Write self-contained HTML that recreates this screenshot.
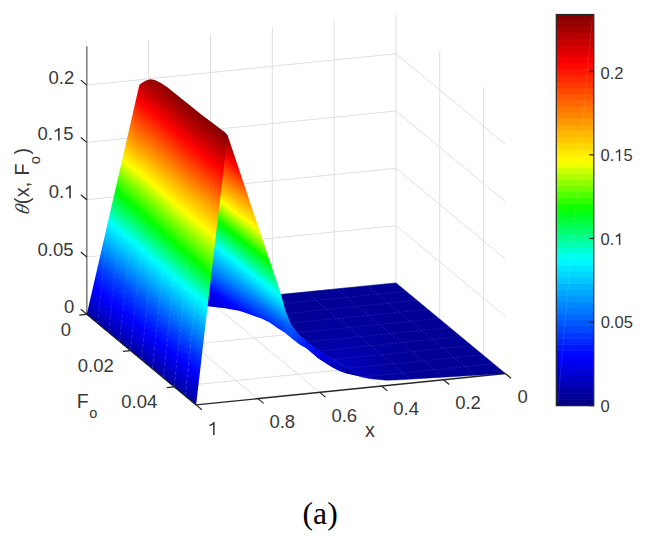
<!DOCTYPE html>
<html><head><meta charset="utf-8"><title>surface plot</title>
<style>html,body{margin:0;padding:0;background:#fff;overflow:hidden;width:648px;height:540px;}svg{display:block;}</style>
</head><body><svg width="648" height="540" viewBox="0 0 648 540"><g id="grid"><line x1="148.64" y1="308.02" x2="148.64" y2="39.97" stroke="#dfdfdf" stroke-width="1.00" /><line x1="210.48" y1="301.74" x2="210.48" y2="33.69" stroke="#dfdfdf" stroke-width="1.00" /><line x1="272.32" y1="295.46" x2="272.32" y2="27.41" stroke="#dfdfdf" stroke-width="1.00" /><line x1="334.16" y1="289.18" x2="334.16" y2="21.13" stroke="#dfdfdf" stroke-width="1.00" /><line x1="396.00" y1="282.90" x2="396.00" y2="14.85" stroke="#dfdfdf" stroke-width="1.00" /><line x1="86.80" y1="314.30" x2="396.00" y2="282.90" stroke="#dfdfdf" stroke-width="1.00" /><line x1="86.80" y1="257.00" x2="396.00" y2="225.60" stroke="#dfdfdf" stroke-width="1.00" /><line x1="86.80" y1="199.70" x2="396.00" y2="168.30" stroke="#dfdfdf" stroke-width="1.00" /><line x1="86.80" y1="142.40" x2="396.00" y2="111.00" stroke="#dfdfdf" stroke-width="1.00" /><line x1="86.80" y1="85.10" x2="396.00" y2="53.70" stroke="#dfdfdf" stroke-width="1.00" /><line x1="439.72" y1="319.14" x2="439.72" y2="51.09" stroke="#dfdfdf" stroke-width="1.00" /><line x1="483.44" y1="355.38" x2="483.44" y2="87.33" stroke="#dfdfdf" stroke-width="1.00" /><line x1="396.00" y1="282.90" x2="505.30" y2="373.50" stroke="#dfdfdf" stroke-width="1.00" /><line x1="396.00" y1="225.60" x2="505.30" y2="316.20" stroke="#dfdfdf" stroke-width="1.00" /><line x1="396.00" y1="168.30" x2="505.30" y2="258.90" stroke="#dfdfdf" stroke-width="1.00" /><line x1="396.00" y1="111.00" x2="505.30" y2="201.60" stroke="#dfdfdf" stroke-width="1.00" /><line x1="396.00" y1="53.70" x2="505.30" y2="144.30" stroke="#dfdfdf" stroke-width="1.00" /><line x1="148.64" y1="308.02" x2="257.94" y2="398.62" stroke="#dfdfdf" stroke-width="1.00" /><line x1="210.48" y1="301.74" x2="319.78" y2="392.34" stroke="#dfdfdf" stroke-width="1.00" /><line x1="272.32" y1="295.46" x2="381.62" y2="386.06" stroke="#dfdfdf" stroke-width="1.00" /><line x1="334.16" y1="289.18" x2="443.46" y2="379.78" stroke="#dfdfdf" stroke-width="1.00" /><line x1="130.52" y1="350.54" x2="439.72" y2="319.14" stroke="#dfdfdf" stroke-width="1.00" /><line x1="174.24" y1="386.78" x2="483.44" y2="355.38" stroke="#dfdfdf" stroke-width="1.00" /></g><g id="axes" stroke-linecap="butt"><line x1="86.80" y1="314.80" x2="86.80" y2="46.25" stroke="#7a7a7a" stroke-width="1.50" /><line x1="86.80" y1="314.30" x2="196.10" y2="404.90" stroke="#262626" stroke-width="1.30" /><line x1="196.10" y1="404.90" x2="505.30" y2="373.50" stroke="#262626" stroke-width="1.30" /><line x1="86.80" y1="314.30" x2="80.79" y2="309.32" stroke="#262626" stroke-width="1.20" /><line x1="86.80" y1="257.00" x2="80.79" y2="252.02" stroke="#262626" stroke-width="1.20" /><line x1="86.80" y1="199.70" x2="80.79" y2="194.72" stroke="#262626" stroke-width="1.20" /><line x1="86.80" y1="142.40" x2="80.79" y2="137.42" stroke="#262626" stroke-width="1.20" /><line x1="86.80" y1="85.10" x2="80.79" y2="80.12" stroke="#262626" stroke-width="1.20" /><line x1="86.80" y1="314.30" x2="79.34" y2="315.06" stroke="#262626" stroke-width="1.20" /><line x1="130.52" y1="350.54" x2="123.06" y2="351.30" stroke="#262626" stroke-width="1.20" /><line x1="174.24" y1="386.78" x2="166.78" y2="387.54" stroke="#262626" stroke-width="1.20" /><line x1="196.10" y1="404.90" x2="201.87" y2="409.69" stroke="#262626" stroke-width="1.20" /><line x1="257.94" y1="398.62" x2="263.71" y2="403.41" stroke="#262626" stroke-width="1.20" /><line x1="319.78" y1="392.34" x2="325.55" y2="397.13" stroke="#262626" stroke-width="1.20" /><line x1="381.62" y1="386.06" x2="387.39" y2="390.85" stroke="#262626" stroke-width="1.20" /><line x1="443.46" y1="379.78" x2="449.23" y2="384.57" stroke="#262626" stroke-width="1.20" /><line x1="505.30" y1="373.50" x2="511.07" y2="378.29" stroke="#262626" stroke-width="1.20" /></g><defs><radialGradient id="flatg" gradientUnits="userSpaceOnUse" cx="345" cy="374" r="75"><stop offset="0" stop-color="#0000c4"/><stop offset="0.55" stop-color="#0000a0"/><stop offset="1" stop-color="#000096"/></radialGradient><clipPath id="flatclip"><polygon points="279.2,294.6 396,282.9 505.3,373.5 505.3,373.5 400,379.7 386.4,380.2 369.4,378.6 360,376.6 351.8,370.5 339.5,363.6 324.8,355.2 310,345.0 297.8,334.8 289.5,324.5 283.6,310.5 279,294.6"/></clipPath></defs><polygon points="279.2,294.6 396,282.9 505.3,373.5 505.3,373.5 400,379.7 386.4,380.2 369.4,378.6 360,376.6 351.8,370.5 339.5,363.6 324.8,355.2 310,345.0 297.8,334.8 289.5,324.5 283.6,310.5 279,294.6" fill="url(#flatg)" stroke="#000096" stroke-width="0.5"/><g clip-path="url(#flatclip)" opacity="0.45" stroke-dasharray="2.5 1.5"><line x1="406.06" y1="291.24" x2="236.00" y2="308.51" stroke="#4848c0" stroke-width="0.80" /><line x1="416.99" y1="300.30" x2="246.93" y2="317.57" stroke="#4848c0" stroke-width="0.80" /><line x1="427.92" y1="309.36" x2="257.86" y2="326.63" stroke="#4848c0" stroke-width="0.80" /><line x1="438.85" y1="318.42" x2="268.79" y2="335.69" stroke="#4848c0" stroke-width="0.80" /><line x1="449.78" y1="327.48" x2="279.72" y2="344.75" stroke="#4848c0" stroke-width="0.80" /><line x1="460.71" y1="336.54" x2="290.65" y2="353.81" stroke="#4848c0" stroke-width="0.80" /><line x1="471.64" y1="345.60" x2="301.58" y2="362.87" stroke="#4848c0" stroke-width="0.80" /><line x1="482.57" y1="354.66" x2="312.51" y2="371.93" stroke="#4848c0" stroke-width="0.80" /><line x1="493.50" y1="363.72" x2="323.44" y2="380.99" stroke="#4848c0" stroke-width="0.80" /></g><g clip-path="url(#flatclip)" opacity="0.35"><line x1="305.71" y1="292.07" x2="415.01" y2="382.67" stroke="#4848c0" stroke-width="0.80" /><line x1="336.63" y1="288.93" x2="445.93" y2="379.53" stroke="#4848c0" stroke-width="0.80" /><line x1="367.55" y1="285.79" x2="476.85" y2="376.39" stroke="#4848c0" stroke-width="0.80" /></g><clipPath id="sec"><polygon points="227.6,135.2 281,294.6 285.4,310.5 291,324.5 299,334.8 311,345.0 325.5,355.2 340,363.6 352,370.5 360,376.6 346.5,373.6 340,371.2 332.2,367.3 325,362.8 318,358.2 312,353.0 306,348.0 300,344.8 292,338.5 285.4,333.0 277,327.7 270,322.8 262,318.8 250,314.5 240,311.1 225,308.2 207.4,306.3 205.2,306.3 225.4,137.0"/></clipPath><mask id="sec_m" maskUnits="userSpaceOnUse" x="0" y="0" width="648" height="540"><polygon fill="#fff" points="227.6,135.2 281,294.6 285.4,310.5 291,324.5 299,334.8 311,345.0 325.5,355.2 340,363.6 352,370.5 360,376.6 346.5,373.6 340,371.2 332.2,367.3 325,362.8 318,358.2 312,353.0 306,348.0 300,344.8 292,338.5 285.4,333.0 277,327.7 270,322.8 262,318.8 250,314.5 240,311.1 225,308.2 207.4,306.3 205.2,306.3 225.4,137.0"/></mask><g mask="url(#sec_m)"><polygon points="-11.4,634.8 407.9,483.6 407.9,-60 -11.4,-60" fill="#000083"/><polygon points="8.1,313.3 375.5,420.9 375.5,-60 8.1,-60" fill="#000083"/><polygon points="10.3,302.5 374,419.4 374.0,-60 10.3,-60" fill="#000089"/><polygon points="12.7,291.7 372.5,418.0 372.5,-60 12.7,-60" fill="#00008f"/><polygon points="15.2,280.9 371,416.6 371.0,-60 15.2,-60" fill="#000096"/><polygon points="17.9,270.1 369.4,415.2 369.4,-60 17.9,-60" fill="#00009c"/><polygon points="20.7,259.3 367.8,413.8 367.8,-60 20.7,-60" fill="#0000a3"/><polygon points="23.7,248.6 366.1,412.3 366.1,-60 23.7,-60" fill="#0000a9"/><polygon points="26.8,237.8 364.4,410.9 364.4,-60 26.8,-60" fill="#0000af"/><polygon points="30.1,227.2 362.6,409.4 362.6,-60 30.1,-60" fill="#0000b6"/><polygon points="33.5,216.6 360.8,408.0 360.8,-60 33.5,-60" fill="#0000bc"/><polygon points="37,206.1 359,406.5 359.0,-60 37.0,-60" fill="#0000c2"/><polygon points="40.5,196.1 357.2,404.9 357.2,-60 40.5,-60" fill="#0000c9"/><polygon points="40.6,194.3 356.2,401.9 356.2,-60 40.6,-60" fill="#0000cf"/><polygon points="40.8,192.4 355.3,398.9 355.3,-60 40.8,-60" fill="#0000d6"/><polygon points="40.9,190.5 354.3,396.0 354.3,-60 40.9,-60" fill="#0000dc"/><polygon points="41,188.7 353.4,393.0 353.4,-60 41.0,-60" fill="#0000e2"/><polygon points="41.9,185.7 352.6,391.6 352.6,-60 41.9,-60" fill="#0000e9"/><polygon points="42.9,182.6 351.8,390.2 351.8,-60 42.9,-60" fill="#0000ef"/><polygon points="43.4,180.5 351.1,388.7 351.1,-60 43.4,-60" fill="#0000f5"/><polygon points="43.4,179.7 350.6,387.0 350.6,-60 43.4,-60" fill="#0000fc"/><polygon points="43.3,178.9 350.1,385.2 350.1,-60 43.3,-60" fill="#0003ff"/><polygon points="43.3,178.2 349.6,383.5 349.6,-60 43.3,-60" fill="#000aff"/><polygon points="43.2,177.4 349.1,381.7 349.1,-60 43.2,-60" fill="#0010ff"/><polygon points="43.2,176.6 348.6,380.0 348.6,-60 43.2,-60" fill="#0016ff"/><polygon points="43.1,175.9 348.1,378.2 348.1,-60 43.1,-60" fill="#001dff"/><polygon points="43.1,175.0 347.6,376.6 347.6,-60 43.1,-60" fill="#0023ff"/><polygon points="43.2,174.1 347.1,375.1 347.1,-60 43.2,-60" fill="#0029ff"/><polygon points="43.3,173.1 346.6,373.6 346.6,-60 43.3,-60" fill="#0030ff"/><polygon points="43.4,172.1 346.1,372.1 346.1,-60 43.4,-60" fill="#0036ff"/><polygon points="43.5,171.2 345.6,370.7 345.6,-60 43.5,-60" fill="#003dff"/><polygon points="43.6,170.2 345.2,369.2 345.2,-60 43.6,-60" fill="#0043ff"/><polygon points="43.6,169.3 344.7,367.7 344.7,-60 43.6,-60" fill="#0049ff"/><polygon points="43.7,168.3 344.2,366.2 344.2,-60 43.7,-60" fill="#0050ff"/><polygon points="43.8,167.3 343.7,364.7 343.7,-60 43.8,-60" fill="#0056ff"/><polygon points="43.9,166.4 343.2,363.3 343.2,-60 43.9,-60" fill="#005cff"/><polygon points="44,165.4 342.8,361.8 342.8,-60 44.0,-60" fill="#0063ff"/><polygon points="44.2,164.3 342.3,360.5 342.3,-60 44.2,-60" fill="#0069ff"/><polygon points="44.5,163.0 341.9,359.4 341.9,-60 44.5,-60" fill="#0070ff"/><polygon points="45,161.2 341.4,358.4 341.4,-60 45.0,-60" fill="#0076ff"/><polygon points="45.5,159.4 340.9,357.5 340.9,-60 45.5,-60" fill="#007cff"/><polygon points="46.1,157.5 340.3,356.5 340.3,-60 46.1,-60" fill="#0083ff"/><polygon points="46.7,155.6 339.8,355.6 339.8,-60 46.7,-60" fill="#0089ff"/><polygon points="47.3,153.7 339.3,354.6 339.3,-60 47.3,-60" fill="#008fff"/><polygon points="47.9,151.8 338.8,353.7 338.8,-60 47.9,-60" fill="#0096ff"/><polygon points="48.5,150.0 338.3,352.7 338.3,-60 48.5,-60" fill="#009cff"/><polygon points="49.1,148.1 337.7,351.8 337.7,-60 49.1,-60" fill="#00a3ff"/><polygon points="49.7,146.2 337.2,350.8 337.2,-60 49.7,-60" fill="#00a9ff"/><polygon points="50.3,144.3 336.7,349.9 336.7,-60 50.3,-60" fill="#00afff"/><polygon points="51,142.4 336.1,348.9 336.1,-60 51.0,-60" fill="#00b6ff"/><polygon points="51.6,140.5 335.6,348.0 335.6,-60 51.6,-60" fill="#00bcff"/><polygon points="52.2,138.5 335.1,347.0 335.1,-60 52.2,-60" fill="#00c2ff"/><polygon points="52.9,136.6 334.5,346.1 334.5,-60 52.9,-60" fill="#00c9ff"/><polygon points="53.5,134.7 334,345.1 334.0,-60 53.5,-60" fill="#00cfff"/><polygon points="54.2,132.8 333.5,344.2 333.5,-60 54.2,-60" fill="#00d6ff"/><polygon points="54.9,130.9 332.9,343.3 332.9,-60 54.9,-60" fill="#00dcff"/><polygon points="55.5,129.1 332.4,342.2 332.4,-60 55.5,-60" fill="#00e2ff"/><polygon points="55.8,127.6 331.8,340.6 331.8,-60 55.8,-60" fill="#00e9ff"/><polygon points="56.1,126.1 331.2,339.1 331.2,-60 56.1,-60" fill="#00efff"/><polygon points="56.4,124.7 330.6,337.6 330.6,-60 56.4,-60" fill="#00f5ff"/><polygon points="56.7,123.4 330,336.1 330.0,-60 56.7,-60" fill="#00fcff"/><polygon points="56.9,122.1 329.5,334.6 329.5,-60 56.9,-60" fill="#00fff9"/><polygon points="57.2,120.7 328.9,333.0 328.9,-60 57.2,-60" fill="#00ffec"/><polygon points="57.5,119.4 328.3,331.5 328.3,-60 57.5,-60" fill="#00ffdf"/><polygon points="57.7,118.1 327.8,330.0 327.8,-60 57.7,-60" fill="#00ffd2"/><polygon points="58,116.8 327.2,328.4 327.2,-60 58.0,-60" fill="#00ffc6"/><polygon points="58.3,115.4 326.6,326.9 326.6,-60 58.3,-60" fill="#00ffb9"/><polygon points="58.5,114.1 326.1,325.4 326.1,-60 58.5,-60" fill="#00ffac"/><polygon points="58.8,112.7 325.5,323.8 325.5,-60 58.8,-60" fill="#00ff9f"/><polygon points="58.9,111.6 324.9,322.0 324.9,-60 58.9,-60" fill="#00ff93"/><polygon points="58.9,110.7 324.3,320.1 324.3,-60 58.9,-60" fill="#00ff86"/><polygon points="58.9,109.7 323.7,318.1 323.7,-60 58.9,-60" fill="#00ff79"/><polygon points="58.8,108.7 323.1,316.1 323.1,-60 58.8,-60" fill="#00ff6c"/><polygon points="58.8,107.8 322.5,314.2 322.5,-60 58.8,-60" fill="#00ff60"/><polygon points="58.8,106.8 321.9,312.2 321.9,-60 58.8,-60" fill="#00ff53"/><polygon points="58.7,105.9 321.4,310.2 321.4,-60 58.7,-60" fill="#00ff46"/><polygon points="58.7,105.0 320.8,308.2 320.8,-60 58.7,-60" fill="#00ff39"/><polygon points="58.8,103.8 320.2,306.6 320.2,-60 58.8,-60" fill="#00ff2d"/><polygon points="59.1,102.5 319.6,305.0 319.6,-60 59.1,-60" fill="#00ff20"/><polygon points="59.3,101.2 319,303.4 319.0,-60 59.3,-60" fill="#00ff13"/><polygon points="59.6,99.9 318.5,301.8 318.5,-60 59.6,-60" fill="#00ff06"/><polygon points="59.8,98.6 317.9,300.2 317.9,-60 59.8,-60" fill="#06ff00"/><polygon points="60.1,97.3 317.3,298.6 317.3,-60 60.1,-60" fill="#13ff00"/><polygon points="60.3,96.0 316.7,297.1 316.7,-60 60.3,-60" fill="#20ff00"/><polygon points="60.6,94.6 316.2,295.5 316.2,-60 60.6,-60" fill="#2dff00"/><polygon points="60.6,93.7 315.6,293.8 315.6,-60 60.6,-60" fill="#39ff00"/><polygon points="60.6,92.8 315.1,292.2 315.1,-60 60.6,-60" fill="#46ff00"/><polygon points="60.7,91.9 314.6,290.5 314.6,-60 60.7,-60" fill="#53ff00"/><polygon points="60.7,91.0 314.1,288.8 314.1,-60 60.7,-60" fill="#60ff00"/><polygon points="60.7,90.0 313.6,287.2 313.6,-60 60.7,-60" fill="#6cff00"/><polygon points="60.8,89.1 313.1,285.6 313.1,-60 60.8,-60" fill="#79ff00"/><polygon points="60.8,88.2 312.5,283.9 312.5,-60 60.8,-60" fill="#86ff00"/><polygon points="60.8,87.2 312,282.3 312.0,-60 60.8,-60" fill="#93ff00"/><polygon points="60.9,86.3 311.5,280.7 311.5,-60 60.9,-60" fill="#9fff00"/><polygon points="60.9,85.4 311,279.1 311.0,-60 60.9,-60" fill="#acff00"/><polygon points="60.9,84.5 310.5,277.4 310.5,-60 60.9,-60" fill="#b9ff00"/><polygon points="61,83.6 310,275.8 310.0,-60 61.0,-60" fill="#c6ff00"/><polygon points="61,82.7 309.5,274.2 309.5,-60 61.0,-60" fill="#d2ff00"/><polygon points="61,81.8 309,272.5 309.0,-60 61.0,-60" fill="#dfff00"/><polygon points="61,80.8 308.5,270.9 308.5,-60 61.0,-60" fill="#ecff00"/><polygon points="61.1,80.0 308,269.3 308.0,-60 61.1,-60" fill="#f9ff00"/><polygon points="61.1,79.1 307.5,267.6 307.5,-60 61.1,-60" fill="#fffc00"/><polygon points="61.1,78.2 307,266.0 307.0,-60 61.1,-60" fill="#fff500"/><polygon points="61.1,77.3 306.5,264.3 306.5,-60 61.1,-60" fill="#ffef00"/><polygon points="60.9,76.6 306,262.6 306.0,-60 60.9,-60" fill="#ffe900"/><polygon points="60.6,76.2 305.5,260.5 305.5,-60 60.6,-60" fill="#ffe200"/><polygon points="60.2,75.8 305.1,258.5 305.1,-60 60.2,-60" fill="#ffdc00"/><polygon points="59.8,75.5 304.6,256.5 304.6,-60 59.8,-60" fill="#ffd600"/><polygon points="59.4,75.2 304.1,254.4 304.1,-60 59.4,-60" fill="#ffcf00"/><polygon points="58.9,75.0 303.7,252.4 303.7,-60 58.9,-60" fill="#ffc900"/><polygon points="58.4,74.8 303.3,250.3 303.3,-60 58.4,-60" fill="#ffc200"/><polygon points="57.9,74.6 302.8,248.2 302.8,-60 57.9,-60" fill="#ffbc00"/><polygon points="57.4,74.5 302.4,246.1 302.4,-60 57.4,-60" fill="#ffb600"/><polygon points="56.9,74.4 302,244.0 302.0,-60 56.9,-60" fill="#ffaf00"/><polygon points="56.5,74.0 301.5,241.9 301.5,-60 56.5,-60" fill="#ffa900"/><polygon points="56.2,73.5 301.1,239.9 301.1,-60 56.2,-60" fill="#ffa300"/><polygon points="55.9,73.0 300.6,237.9 300.6,-60 55.9,-60" fill="#ff9c00"/><polygon points="55.5,72.6 300.1,235.8 300.1,-60 55.5,-60" fill="#ff9600"/><polygon points="55.9,71.2 299.6,234.4 299.6,-60 55.9,-60" fill="#ff8f00"/><polygon points="56.5,69.3 298.9,233.3 298.9,-60 56.5,-60" fill="#ff8900"/><polygon points="57.1,67.4 298.3,232.1 298.3,-60 57.1,-60" fill="#ff8300"/><polygon points="57.8,65.5 297.7,231.0 297.7,-60 57.8,-60" fill="#ff7c00"/><polygon points="58.5,63.5 297.1,229.9 297.1,-60 58.5,-60" fill="#ff7600"/><polygon points="59.2,61.5 296.4,228.7 296.4,-60 59.2,-60" fill="#ff7000"/><polygon points="60,59.5 295.8,227.6 295.8,-60 60.0,-60" fill="#ff6900"/><polygon points="60.8,57.5 295.1,226.5 295.1,-60 60.8,-60" fill="#ff6300"/><polygon points="61.6,55.4 294.5,225.4 294.5,-60 61.6,-60" fill="#ff5c00"/><polygon points="62.5,53.2 293.8,224.4 293.8,-60 62.5,-60" fill="#ff5600"/><polygon points="63.4,51.1 293.1,223.3 293.1,-60 63.4,-60" fill="#ff5000"/><polygon points="64,49.2 292.5,222.0 292.5,-60 64.0,-60" fill="#ff4900"/><polygon points="64.6,47.5 291.8,220.7 291.8,-60 64.6,-60" fill="#ff4300"/><polygon points="65.3,45.7 291.2,219.4 291.2,-60 65.3,-60" fill="#ff3d00"/><polygon points="65.9,43.8 290.5,218.1 290.5,-60 65.9,-60" fill="#ff3600"/><polygon points="66.6,41.9 289.8,216.9 289.8,-60 66.6,-60" fill="#ff3000"/><polygon points="67.4,40.0 289.1,215.6 289.1,-60 67.4,-60" fill="#ff2900"/><polygon points="68.2,38.0 288.4,214.3 288.4,-60 68.2,-60" fill="#ff2300"/><polygon points="69,36.0 287.7,213.1 287.7,-60 69.0,-60" fill="#ff1d00"/><polygon points="69.9,33.9 287,211.9 287.0,-60 69.9,-60" fill="#ff1600"/><polygon points="70.9,31.8 286.2,210.7 286.2,-60 70.9,-60" fill="#ff1000"/><polygon points="71.9,29.6 285.5,209.5 285.5,-60 71.9,-60" fill="#ff0a00"/><polygon points="72.3,28.2 284.9,208.1 284.9,-60 72.3,-60" fill="#ff0300"/><polygon points="72.4,27.3 284.4,206.6 284.4,-60 72.4,-60" fill="#fc0000"/><polygon points="72.4,26.4 283.9,205.0 283.9,-60 72.4,-60" fill="#f50000"/><polygon points="72.4,25.6 283.4,203.5 283.4,-60 72.4,-60" fill="#ef0000"/><polygon points="72.4,24.8 282.9,201.9 282.9,-60 72.4,-60" fill="#e90000"/><polygon points="72.4,23.9 282.5,200.4 282.5,-60 72.4,-60" fill="#e20000"/><polygon points="72.4,23.1 282,198.9 282.0,-60 72.4,-60" fill="#dc0000"/><polygon points="72.4,22.3 281.6,197.3 281.6,-60 72.4,-60" fill="#d60000"/><polygon points="72.3,21.6 281.1,195.7 281.1,-60 72.3,-60" fill="#cf0000"/><polygon points="72.2,20.9 280.7,194.2 280.7,-60 72.2,-60" fill="#c90000"/><polygon points="72.1,20.2 280.2,192.6 280.2,-60 72.1,-60" fill="#c20000"/><polygon points="71.9,19.5 279.8,191.0 279.8,-60 71.9,-60" fill="#bc0000"/><polygon points="71.7,19.0 279.4,189.4 279.4,-60 71.7,-60" fill="#b60000"/><polygon points="71.5,18.3 279,187.7 279.0,-60 71.5,-60" fill="#af0000"/><polygon points="71.7,17.0 278.3,185.7 278.3,-60 71.7,-60" fill="#a90000"/><polygon points="71.8,15.7 277.6,183.7 277.6,-60 71.8,-60" fill="#a30000"/><polygon points="72,14.4 277,181.8 277.0,-60 72.0,-60" fill="#9c0000"/><polygon points="72.2,13.1 276.3,179.8 276.3,-60 72.2,-60" fill="#960000"/><polygon points="72.3,11.8 275.7,177.8 275.7,-60 72.3,-60" fill="#8f0000"/><polygon points="72.5,10.5 275,175.9 275.0,-60 72.5,-60" fill="#890000"/><polygon points="72.6,9.2 274.3,173.9 274.3,-60 72.6,-60" fill="#830000"/></g><defs><linearGradient id="stripg" gradientUnits="userSpaceOnUse" x1="284.0" y1="322.0" x2="352.0" y2="374.0"><stop offset="0.000" stop-color="#0070ff"/><stop offset="0.351" stop-color="#001dff"/><stop offset="0.568" stop-color="#0000e2"/><stop offset="0.921" stop-color="#0000a9"/><stop offset="1.000" stop-color="#0000a3"/></linearGradient><linearGradient id="stripa" gradientUnits="userSpaceOnUse" x1="284.0" y1="322.0" x2="352.0" y2="374.0"><stop offset="0.02" stop-color="#fff" stop-opacity="0"/><stop offset="0.17" stop-color="#fff" stop-opacity="1"/></linearGradient><mask id="stripm" maskUnits="userSpaceOnUse" x="0" y="0" width="648" height="540"><polygon fill="url(#stripa)" points="285.4,310.5 291,324.5 299,334.8 311,345.0 325.5,355.2 340,363.6 352,370.5 360,376.6 346.5,373.6 340,371.2 332.2,367.3 325,362.8 318,358.2 312,353.0 306,348.0 300,344.8 292,338.5 285.4,333.0 277,327.7"/></mask></defs><g mask="url(#stripm)"><polygon points="285.4,310.5 291,324.5 299,334.8 311,345.0 325.5,355.2 340,363.6 352,370.5 360,376.6 346.5,373.6 340,371.2 332.2,367.3 325,362.8 318,358.2 312,353.0 306,348.0 300,344.8 292,338.5 285.4,333.0 277,327.7" fill="url(#stripg)" /></g><clipPath id="big"><polygon points="86.8,314.3 139.4,84.8 142.3,82.7 146,80.5 150.4,79.2 154.7,80.1 160.9,83.0 167,86.9 176,94.3 188.9,104.6 201.9,115.0 214.9,124.7 225.2,132.5 227.6,135.2 196.1,404.9"/></clipPath><mask id="big_m" maskUnits="userSpaceOnUse" x="0" y="0" width="648" height="540"><polygon fill="#fff" points="86.8,314.3 139.4,84.8 142.3,82.7 146,80.5 150.4,79.2 154.7,80.1 160.9,83.0 167,86.9 176,94.3 188.9,104.6 201.9,115.0 214.9,124.7 225.2,132.5 227.6,135.2 196.1,404.9"/></mask><g mask="url(#big_m)"><polygon points="81.2,325.8 84.2,325.8 92.7,333.3 101.1,340.7 109.6,347.8 118.1,355.0 126.6,362.0 135.1,369.0 143.6,376.1 152.1,383.1 160.6,390.2 169.1,397.2 177.5,404.3 186,411.4 194.5,418.4 197.5,418.4 233.1,113.6 230.1,113.6 223.5,107.7 216.8,102.7 210.2,97.8 203.5,92.8 196.8,87.5 190.2,82.2 183.5,76.9 176.9,71.5 170.2,66.2 163.6,62.2 156.9,59.9 150.3,61.2 143.6,66.4 140.6,66.4" fill="#000083"/><polygon points="83.8,314.3 86.8,314.3 95.2,321.3 103.6,328.2 112,335.2 120.4,342.2 128.8,349.1 137.2,356.1 145.7,363.1 154.1,370.1 162.5,377.0 170.9,384.0 179.3,391.0 187.7,397.9 196.1,404.9 199.1,404.9 233.1,113.6 230.1,113.6 223.5,107.7 216.8,102.7 210.2,97.8 203.5,92.8 196.8,87.5 190.2,82.2 183.5,76.9 176.9,71.5 170.2,66.2 163.6,62.2 156.9,59.9 150.3,61.2 143.6,66.4 140.6,66.4" fill="#000089"/><polygon points="83.9,314.0 86.9,314.0 95.2,321.2 103.6,328.2 112,335.2 120.4,342.2 128.8,349.1 137.2,356.1 145.7,363.0 154.1,370.0 162.5,376.9 170.9,383.8 179.3,390.7 187.7,397.6 196.1,404.5 199.1,404.5 233.1,113.6 230.1,113.6 223.5,107.7 216.8,102.7 210.2,97.8 203.5,92.8 196.8,87.5 190.2,82.2 183.5,76.9 176.9,71.5 170.2,66.2 163.6,62.2 156.9,59.9 150.3,61.2 143.6,66.4 140.6,66.4" fill="#0000a3"/><polygon points="84.3,312.3 87.3,312.3 95.6,319.6 103.9,326.6 112.3,333.6 120.7,340.5 129.1,347.4 137.5,354.3 145.9,361.2 154.4,368.1 162.8,375.0 171.2,381.9 179.6,388.8 188,395.7 196.4,402.5 199.4,402.5 233.1,113.6 230.1,113.6 223.5,107.7 216.8,102.7 210.2,97.8 203.5,92.8 196.8,87.5 190.2,82.2 183.5,76.9 176.9,71.5 170.2,66.2 163.6,62.2 156.9,59.9 150.3,61.2 143.6,66.4 140.6,66.4" fill="#0000a9"/><polygon points="84.6,310.7 87.6,310.7 95.9,317.9 104.3,324.9 112.7,331.8 121.1,338.7 129.4,345.6 137.8,352.5 146.2,359.4 154.6,366.3 163,373.1 171.4,380.0 179.8,386.8 188.2,393.7 196.6,400.6 199.6,400.6 233.1,113.6 230.1,113.6 223.5,107.7 216.8,102.7 210.2,97.8 203.5,92.8 196.8,87.5 190.2,82.2 183.5,76.9 176.9,71.5 170.2,66.2 163.6,62.2 156.9,59.9 150.3,61.2 143.6,66.4 140.6,66.4" fill="#0000af"/><polygon points="85,309.0 88,309.0 96.3,316.2 104.6,323.2 113,330.1 121.4,337.0 129.8,343.8 138.1,350.7 146.5,357.6 154.9,364.4 163.3,371.2 171.7,378.1 180.1,384.9 188.5,391.7 196.8,398.6 199.8,398.6 233.1,113.6 230.1,113.6 223.5,107.7 216.8,102.7 210.2,97.8 203.5,92.8 196.8,87.5 190.2,82.2 183.5,76.9 176.9,71.5 170.2,66.2 163.6,62.2 156.9,59.9 150.3,61.2 143.6,66.4 140.6,66.4" fill="#0000b6"/><polygon points="85.4,307.4 88.4,307.4 96.6,314.6 104.9,321.5 113.3,328.4 121.7,335.2 130.1,342.1 138.4,348.9 146.8,355.7 155.2,362.6 163.6,369.4 172,376.2 180.3,383.0 188.7,389.8 197.1,396.6 200.1,396.6 233.1,113.6 230.1,113.6 223.5,107.7 216.8,102.7 210.2,97.8 203.5,92.8 196.8,87.5 190.2,82.2 183.5,76.9 176.9,71.5 170.2,66.2 163.6,62.2 156.9,59.9 150.3,61.2 143.6,66.4 140.6,66.4" fill="#0000bc"/><polygon points="85.8,305.7 88.8,305.7 97,312.9 105.3,319.8 113.6,326.6 122,333.5 130.4,340.3 138.7,347.1 147.1,353.9 155.5,360.7 163.8,367.5 172.2,374.3 180.6,381.0 188.9,387.8 197.3,394.6 200.3,394.6 233.1,113.6 230.1,113.6 223.5,107.7 216.8,102.7 210.2,97.8 203.5,92.8 196.8,87.5 190.2,82.2 183.5,76.9 176.9,71.5 170.2,66.2 163.6,62.2 156.9,59.9 150.3,61.2 143.6,66.4 140.6,66.4" fill="#0000c2"/><polygon points="86.1,304.1 89.1,304.1 97.3,311.2 105.6,318.1 114,324.9 122.3,331.7 130.7,338.5 139,345.3 147.4,352.1 155.8,358.8 164.1,365.6 172.5,372.3 180.8,379.1 189.2,385.8 197.5,392.6 200.5,392.6 233.1,113.6 230.1,113.6 223.5,107.7 216.8,102.7 210.2,97.8 203.5,92.8 196.8,87.5 190.2,82.2 183.5,76.9 176.9,71.5 170.2,66.2 163.6,62.2 156.9,59.9 150.3,61.2 143.6,66.4 140.6,66.4" fill="#0000c9"/><polygon points="86.5,302.4 89.5,302.4 97.7,309.6 106,316.4 114.3,323.2 122.6,329.9 131,336.7 139.3,343.5 147.7,350.2 156,357.0 164.4,363.7 172.7,370.4 181.1,377.2 189.4,383.9 197.8,390.6 200.8,390.6 233.1,113.6 230.1,113.6 223.5,107.7 216.8,102.7 210.2,97.8 203.5,92.8 196.8,87.5 190.2,82.2 183.5,76.9 176.9,71.5 170.2,66.2 163.6,62.2 156.9,59.9 150.3,61.2 143.6,66.4 140.6,66.4" fill="#0000cf"/><polygon points="86.9,300.8 89.9,300.8 98,307.9 106.3,314.7 114.6,321.4 123,328.2 131.3,334.9 139.6,341.7 148,348.4 156.3,355.2 164.7,361.9 173,368.6 181.3,375.2 189.7,381.9 198,388.6 201,388.6 233.1,113.6 230.1,113.6 223.5,107.7 216.8,102.7 210.2,97.8 203.5,92.8 196.8,87.5 190.2,82.2 183.5,76.9 176.9,71.5 170.2,66.2 163.6,62.2 156.9,59.9 150.3,61.2 143.6,66.4 140.6,66.4" fill="#0000d6"/><polygon points="87.3,299.1 90.3,299.1 98.4,306.2 106.6,313.0 115,319.7 123.3,326.4 131.6,333.2 139.9,339.9 148.3,346.6 156.6,353.3 164.9,360.0 173.3,366.7 181.6,373.3 189.9,380.0 198.2,386.7 201.2,386.7 233.1,113.6 230.1,113.6 223.5,107.7 216.8,102.7 210.2,97.8 203.5,92.8 196.8,87.5 190.2,82.2 183.5,76.9 176.9,71.5 170.2,66.2 163.6,62.2 156.9,59.9 150.3,61.2 143.6,66.4 140.6,66.4" fill="#0000dc"/><polygon points="87.7,297.1 90.7,297.1 98.8,304.5 107,311.3 115.3,318.0 123.6,324.7 131.9,331.4 140.2,338.1 148.6,344.7 156.9,351.4 165.2,358.1 173.5,364.7 181.8,371.4 190.1,378.0 198.5,384.7 201.5,384.7 233.1,113.6 230.1,113.6 223.5,107.7 216.8,102.7 210.2,97.8 203.5,92.8 196.8,87.5 190.2,82.2 183.5,76.9 176.9,71.5 170.2,66.2 163.6,62.2 156.9,59.9 150.3,61.2 143.6,66.4 140.6,66.4" fill="#0000e2"/><polygon points="88.2,294.9 91.2,294.9 99.2,302.3 107.4,309.3 115.7,315.9 124,322.6 132.3,329.3 140.6,336.0 148.9,342.7 157.2,349.4 165.5,356.1 173.8,362.7 182.1,369.4 190.4,376.0 198.7,382.8 201.7,382.8 233.1,113.6 230.1,113.6 223.5,107.7 216.8,102.7 210.2,97.8 203.5,92.8 196.8,87.5 190.2,82.2 183.5,76.9 176.9,71.5 170.2,66.2 163.6,62.2 156.9,59.9 150.3,61.2 143.6,66.4 140.6,66.4" fill="#0000e9"/><polygon points="88.7,292.8 91.7,292.8 99.7,300.2 107.8,307.1 116.1,313.7 124.3,320.5 132.6,327.2 140.9,333.9 149.2,340.6 157.5,347.3 165.8,354.0 174.1,360.7 182.4,367.4 190.6,374.0 198.9,380.8 201.9,380.8 233.1,113.6 230.1,113.6 223.5,107.7 216.8,102.7 210.2,97.8 203.5,92.8 196.8,87.5 190.2,82.2 183.5,76.9 176.9,71.5 170.2,66.2 163.6,62.2 156.9,59.9 150.3,61.2 143.6,66.4 140.6,66.4" fill="#0000ef"/><polygon points="89.2,290.6 92.2,290.6 100.1,298.0 108.2,304.9 116.5,311.6 124.7,318.3 133,325.1 141.3,331.8 149.5,338.6 157.8,345.3 166.1,352.0 174.3,358.7 182.6,365.4 190.9,372.1 199.1,378.8 202.1,378.8 233.1,113.6 230.1,113.6 223.5,107.7 216.8,102.7 210.2,97.8 203.5,92.8 196.8,87.5 190.2,82.2 183.5,76.9 176.9,71.5 170.2,66.2 163.6,62.2 156.9,59.9 150.3,61.2 143.6,66.4 140.6,66.4" fill="#0000f5"/><polygon points="89.7,288.4 92.7,288.4 100.6,295.8 108.7,302.8 116.9,309.4 125.1,316.2 133.4,323.0 141.6,329.7 149.9,336.5 158.1,343.2 166.4,350.0 174.6,356.7 182.9,363.4 191.1,370.1 199.4,376.9 202.4,376.9 233.1,113.6 230.1,113.6 223.5,107.7 216.8,102.7 210.2,97.8 203.5,92.8 196.8,87.5 190.2,82.2 183.5,76.9 176.9,71.5 170.2,66.2 163.6,62.2 156.9,59.9 150.3,61.2 143.6,66.4 140.6,66.4" fill="#0000fc"/><polygon points="90.2,286.2 93.2,286.2 101,293.7 109.1,300.6 117.3,307.3 125.5,314.1 133.7,320.9 142,327.6 150.2,334.4 158.4,341.2 166.7,347.9 174.9,354.7 183.1,361.4 191.4,368.1 199.6,374.9 202.6,374.9 233.1,113.6 230.1,113.6 223.5,107.7 216.8,102.7 210.2,97.8 203.5,92.8 196.8,87.5 190.2,82.2 183.5,76.9 176.9,71.5 170.2,66.2 163.6,62.2 156.9,59.9 150.3,61.2 143.6,66.4 140.6,66.4" fill="#0003ff"/><polygon points="90.7,284.0 93.7,284.0 101.5,291.5 109.5,298.5 117.7,305.1 125.9,311.9 134.1,318.8 142.3,325.6 150.5,332.4 158.7,339.2 167,345.9 175.2,352.7 183.4,359.4 191.6,366.1 199.8,372.9 202.8,372.9 233.1,113.6 230.1,113.6 223.5,107.7 216.8,102.7 210.2,97.8 203.5,92.8 196.8,87.5 190.2,82.2 183.5,76.9 176.9,71.5 170.2,66.2 163.6,62.2 156.9,59.9 150.3,61.2 143.6,66.4 140.6,66.4" fill="#000aff"/><polygon points="91.2,281.8 94.2,281.8 102,289.3 110,296.3 118.1,303.0 126.3,309.8 134.5,316.7 142.7,323.5 150.9,330.3 159,337.1 167.3,343.9 175.5,350.6 183.7,357.4 191.9,364.1 200.1,371.0 203.1,371.0 233.1,113.6 230.1,113.6 223.5,107.7 216.8,102.7 210.2,97.8 203.5,92.8 196.8,87.5 190.2,82.2 183.5,76.9 176.9,71.5 170.2,66.2 163.6,62.2 156.9,59.9 150.3,61.2 143.6,66.4 140.6,66.4" fill="#0010ff"/><polygon points="91.8,279.6 94.8,279.6 102.4,287.2 110.4,294.2 118.5,300.8 126.7,307.7 134.8,314.5 143,321.4 151.2,328.2 159.4,335.1 167.5,341.9 175.7,348.6 183.9,355.4 192.1,362.1 200.3,369.0 203.3,369.0 233.1,113.6 230.1,113.6 223.5,107.7 216.8,102.7 210.2,97.8 203.5,92.8 196.8,87.5 190.2,82.2 183.5,76.9 176.9,71.5 170.2,66.2 163.6,62.2 156.9,59.9 150.3,61.2 143.6,66.4 140.6,66.4" fill="#0016ff"/><polygon points="92.3,277.4 95.3,277.4 102.9,285.0 110.8,292.0 118.9,298.7 127,305.6 135.2,312.4 143.3,319.3 151.5,326.2 159.7,333.0 167.8,339.8 176,346.6 184.2,353.4 192.3,360.2 200.5,367.1 203.5,367.1 233.1,113.6 230.1,113.6 223.5,107.7 216.8,102.7 210.2,97.8 203.5,92.8 196.8,87.5 190.2,82.2 183.5,76.9 176.9,71.5 170.2,66.2 163.6,62.2 156.9,59.9 150.3,61.2 143.6,66.4 140.6,66.4" fill="#001dff"/><polygon points="92.8,275.2 95.8,275.2 103.3,282.9 111.2,289.9 119.3,296.6 127.4,303.4 135.6,310.3 143.7,317.2 151.8,324.1 160,331.0 168.1,337.8 176.3,344.6 184.4,351.4 192.6,358.2 200.7,365.1 203.7,365.1 233.1,113.6 230.1,113.6 223.5,107.7 216.8,102.7 210.2,97.8 203.5,92.8 196.8,87.5 190.2,82.2 183.5,76.9 176.9,71.5 170.2,66.2 163.6,62.2 156.9,59.9 150.3,61.2 143.6,66.4 140.6,66.4" fill="#0023ff"/><polygon points="93.3,273.0 96.3,273.0 103.8,280.7 111.7,287.7 119.7,294.4 127.8,301.3 135.9,308.2 144,315.1 152.2,322.0 160.3,328.9 168.4,335.8 176.6,342.6 184.7,349.4 192.8,356.2 201,363.1 204,363.1 233.1,113.6 230.1,113.6 223.5,107.7 216.8,102.7 210.2,97.8 203.5,92.8 196.8,87.5 190.2,82.2 183.5,76.9 176.9,71.5 170.2,66.2 163.6,62.2 156.9,59.9 150.3,61.2 143.6,66.4 140.6,66.4" fill="#0029ff"/><polygon points="93.8,270.8 96.8,270.8 104.2,278.6 112.1,285.6 120.1,292.4 128.2,299.3 136.3,306.2 144.4,313.2 152.5,320.1 160.6,327.0 168.7,333.9 176.8,340.7 184.9,347.5 193.1,354.3 201.2,361.3 204.2,361.3 233.1,113.6 230.1,113.6 223.5,107.7 216.8,102.7 210.2,97.8 203.5,92.8 196.8,87.5 190.2,82.2 183.5,76.9 176.9,71.5 170.2,66.2 163.6,62.2 156.9,59.9 150.3,61.2 143.6,66.4 140.6,66.4" fill="#0030ff"/><polygon points="94.3,268.7 97.3,268.7 104.7,276.4 112.5,283.5 120.5,290.3 128.5,297.2 136.6,304.2 144.7,311.2 152.8,318.2 160.9,325.1 169,332.0 177.1,338.9 185.2,345.7 193.3,352.5 201.4,359.5 204.4,359.5 233.1,113.6 230.1,113.6 223.5,107.7 216.8,102.7 210.2,97.8 203.5,92.8 196.8,87.5 190.2,82.2 183.5,76.9 176.9,71.5 170.2,66.2 163.6,62.2 156.9,59.9 150.3,61.2 143.6,66.4 140.6,66.4" fill="#0036ff"/><polygon points="94.6,267.1 97.6,267.1 105.2,274.3 112.9,281.4 120.9,288.2 128.9,295.2 137,302.3 145,309.3 153.1,316.3 161.1,323.2 169.2,330.2 177.3,337.1 185.4,343.9 193.5,350.8 201.6,357.8 204.6,357.8 233.1,113.6 230.1,113.6 223.5,107.7 216.8,102.7 210.2,97.8 203.5,92.8 196.8,87.5 190.2,82.2 183.5,76.9 176.9,71.5 170.2,66.2 163.6,62.2 156.9,59.9 150.3,61.2 143.6,66.4 140.6,66.4" fill="#003dff"/><polygon points="95,265.6 98,265.6 105.5,272.5 113.3,279.3 121.3,286.1 129.3,293.2 137.3,300.3 145.3,307.3 153.4,314.4 161.4,321.4 169.5,328.3 177.6,335.2 185.6,342.1 193.7,349.0 201.8,356.1 204.8,356.1 233.1,113.6 230.1,113.6 223.5,107.7 216.8,102.7 210.2,97.8 203.5,92.8 196.8,87.5 190.2,82.2 183.5,76.9 176.9,71.5 170.2,66.2 163.6,62.2 156.9,59.9 150.3,61.2 143.6,66.4 140.6,66.4" fill="#0043ff"/><polygon points="95.3,264.1 98.3,264.1 105.9,270.9 113.7,277.6 121.7,284.2 129.6,291.2 137.6,298.3 145.7,305.4 153.7,312.4 161.7,319.5 169.8,326.5 177.8,333.4 185.9,340.3 193.9,347.2 202,354.3 205,354.3 233.1,113.6 230.1,113.6 223.5,107.7 216.8,102.7 210.2,97.8 203.5,92.8 196.8,87.5 190.2,82.2 183.5,76.9 176.9,71.5 170.2,66.2 163.6,62.2 156.9,59.9 150.3,61.2 143.6,66.4 140.6,66.4" fill="#0049ff"/><polygon points="95.7,262.6 98.7,262.6 106.2,269.4 114,276.0 121.9,282.7 129.9,289.6 137.9,296.6 146,303.6 154,310.6 162,317.6 170,324.6 178.1,331.6 186.1,338.5 194.2,345.5 202.2,352.6 205.2,352.6 233.1,113.6 230.1,113.6 223.5,107.7 216.8,102.7 210.2,97.8 203.5,92.8 196.8,87.5 190.2,82.2 183.5,76.9 176.9,71.5 170.2,66.2 163.6,62.2 156.9,59.9 150.3,61.2 143.6,66.4 140.6,66.4" fill="#0050ff"/><polygon points="96,261.0 99,261.0 106.5,267.9 114.3,274.5 122.2,281.1 130.2,288.0 138.2,295.0 146.2,302.0 154.2,309.0 162.2,316.0 170.3,323.0 178.3,329.9 186.3,336.8 194.4,343.7 202.4,350.8 205.4,350.8 233.1,113.6 230.1,113.6 223.5,107.7 216.8,102.7 210.2,97.8 203.5,92.8 196.8,87.5 190.2,82.2 183.5,76.9 176.9,71.5 170.2,66.2 163.6,62.2 156.9,59.9 150.3,61.2 143.6,66.4 140.6,66.4" fill="#0056ff"/><polygon points="96.4,259.5 99.4,259.5 106.8,266.4 114.6,272.9 122.5,279.5 130.5,286.4 138.5,293.4 146.5,300.4 154.5,307.3 162.5,314.3 170.5,321.3 178.5,328.2 186.6,335.1 194.6,342.0 202.6,349.1 205.6,349.1 233.1,113.6 230.1,113.6 223.5,107.7 216.8,102.7 210.2,97.8 203.5,92.8 196.8,87.5 190.2,82.2 183.5,76.9 176.9,71.5 170.2,66.2 163.6,62.2 156.9,59.9 150.3,61.2 143.6,66.4 140.6,66.4" fill="#005cff"/><polygon points="96.7,258.0 99.7,258.0 107.2,264.8 114.9,271.4 122.8,277.9 130.8,284.8 138.8,291.8 146.8,298.7 154.8,305.7 162.7,312.7 170.8,319.6 178.8,326.5 186.8,333.4 194.8,340.3 202.8,347.4 205.8,347.4 233.1,113.6 230.1,113.6 223.5,107.7 216.8,102.7 210.2,97.8 203.5,92.8 196.8,87.5 190.2,82.2 183.5,76.9 176.9,71.5 170.2,66.2 163.6,62.2 156.9,59.9 150.3,61.2 143.6,66.4 140.6,66.4" fill="#0063ff"/><polygon points="97,256.5 100,256.5 107.5,263.3 115.2,269.9 123.1,276.4 131.1,283.2 139,290.2 147,297.1 155,304.1 163,311.0 171,318.0 179,324.8 187,331.7 195,338.6 203,345.6 206,345.6 233.1,113.6 230.1,113.6 223.5,107.7 216.8,102.7 210.2,97.8 203.5,92.8 196.8,87.5 190.2,82.2 183.5,76.9 176.9,71.5 170.2,66.2 163.6,62.2 156.9,59.9 150.3,61.2 143.6,66.4 140.6,66.4" fill="#0069ff"/><polygon points="97.4,255.0 100.4,255.0 107.8,261.8 115.5,268.3 123.4,274.8 131.4,281.6 139.3,288.6 147.3,295.5 155.3,302.4 163.2,309.4 171.2,316.3 179.2,323.1 187.2,330.0 195.2,336.8 203.2,343.9 206.2,343.9 233.1,113.6 230.1,113.6 223.5,107.7 216.8,102.7 210.2,97.8 203.5,92.8 196.8,87.5 190.2,82.2 183.5,76.9 176.9,71.5 170.2,66.2 163.6,62.2 156.9,59.9 150.3,61.2 143.6,66.4 140.6,66.4" fill="#0070ff"/><polygon points="97.7,253.5 100.7,253.5 108.1,260.3 115.8,266.8 123.7,273.2 131.6,280.0 139.6,287.0 147.6,293.9 155.5,300.8 163.5,307.7 171.5,314.6 179.5,321.5 187.4,328.3 195.4,335.1 203.4,342.2 206.4,342.2 233.1,113.6 230.1,113.6 223.5,107.7 216.8,102.7 210.2,97.8 203.5,92.8 196.8,87.5 190.2,82.2 183.5,76.9 176.9,71.5 170.2,66.2 163.6,62.2 156.9,59.9 150.3,61.2 143.6,66.4 140.6,66.4" fill="#0076ff"/><polygon points="98.1,252.0 101.1,252.0 108.4,258.7 116.1,265.2 124,271.7 131.9,278.4 139.9,285.4 147.8,292.3 155.8,299.2 163.7,306.1 171.7,313.0 179.7,319.8 187.7,326.6 195.6,333.4 203.6,340.4 206.6,340.4 233.1,113.6 230.1,113.6 223.5,107.7 216.8,102.7 210.2,97.8 203.5,92.8 196.8,87.5 190.2,82.2 183.5,76.9 176.9,71.5 170.2,66.2 163.6,62.2 156.9,59.9 150.3,61.2 143.6,66.4 140.6,66.4" fill="#007cff"/><polygon points="98.4,250.5 101.4,250.5 108.8,257.2 116.4,263.7 124.3,270.1 132.2,276.8 140.2,283.7 148.1,290.7 156,297.5 164,304.4 172,311.3 179.9,318.1 187.9,324.9 195.9,331.7 203.8,338.7 206.8,338.7 233.1,113.6 230.1,113.6 223.5,107.7 216.8,102.7 210.2,97.8 203.5,92.8 196.8,87.5 190.2,82.2 183.5,76.9 176.9,71.5 170.2,66.2 163.6,62.2 156.9,59.9 150.3,61.2 143.6,66.4 140.6,66.4" fill="#0083ff"/><polygon points="98.8,249.0 101.8,249.0 109.1,255.7 116.7,262.1 124.6,268.5 132.5,275.3 140.4,282.1 148.4,289.0 156.3,295.9 164.2,302.8 172.2,309.6 180.2,316.4 188.1,323.2 196.1,329.9 204,337.0 207,337.0 233.1,113.6 230.1,113.6 223.5,107.7 216.8,102.7 210.2,97.8 203.5,92.8 196.8,87.5 190.2,82.2 183.5,76.9 176.9,71.5 170.2,66.2 163.6,62.2 156.9,59.9 150.3,61.2 143.6,66.4 140.6,66.4" fill="#0089ff"/><polygon points="99.1,247.4 102.1,247.4 109.4,254.2 117.1,260.6 124.9,266.9 132.8,273.7 140.7,280.5 148.6,287.4 156.6,294.3 164.5,301.1 172.4,308.0 180.4,314.7 188.3,321.5 196.3,328.2 204.2,335.2 207.2,335.2 233.1,113.6 230.1,113.6 223.5,107.7 216.8,102.7 210.2,97.8 203.5,92.8 196.8,87.5 190.2,82.2 183.5,76.9 176.9,71.5 170.2,66.2 163.6,62.2 156.9,59.9 150.3,61.2 143.6,66.4 140.6,66.4" fill="#008fff"/><polygon points="99.5,245.9 102.5,245.9 109.7,252.7 117.4,259.0 125.2,265.4 133.1,272.1 141,279.0 148.9,285.8 156.8,292.7 164.7,299.5 172.7,306.3 180.6,313.0 188.6,319.8 196.5,326.5 204.4,333.5 207.4,333.5 233.1,113.6 230.1,113.6 223.5,107.7 216.8,102.7 210.2,97.8 203.5,92.8 196.8,87.5 190.2,82.2 183.5,76.9 176.9,71.5 170.2,66.2 163.6,62.2 156.9,59.9 150.3,61.2 143.6,66.4 140.6,66.4" fill="#0096ff"/><polygon points="99.8,244.4 102.8,244.4 110.1,251.1 117.7,257.5 125.5,263.8 133.4,270.5 141.3,277.4 149.2,284.2 157.1,291.1 165,297.9 172.9,304.7 180.8,311.4 188.8,318.1 196.7,324.8 204.6,331.8 207.6,331.8 233.1,113.6 230.1,113.6 223.5,107.7 216.8,102.7 210.2,97.8 203.5,92.8 196.8,87.5 190.2,82.2 183.5,76.9 176.9,71.5 170.2,66.2 163.6,62.2 156.9,59.9 150.3,61.2 143.6,66.4 140.6,66.4" fill="#009cff"/><polygon points="100.2,242.9 103.2,242.9 110.4,249.6 118,256.0 125.8,262.3 133.6,269.0 141.5,275.8 149.4,282.7 157.3,289.5 165.2,296.3 173.1,303.1 181.1,309.8 189,316.5 196.9,323.2 204.8,330.1 207.8,330.1 233.1,113.6 230.1,113.6 223.5,107.7 216.8,102.7 210.2,97.8 203.5,92.8 196.8,87.5 190.2,82.2 183.5,76.9 176.9,71.5 170.2,66.2 163.6,62.2 156.9,59.9 150.3,61.2 143.6,66.4 140.6,66.4" fill="#00a3ff"/><polygon points="100.5,241.4 103.5,241.4 110.7,248.1 118.3,254.5 126.1,260.7 133.9,267.4 141.8,274.3 149.7,281.1 157.6,287.9 165.5,294.7 173.4,301.5 181.3,308.2 189.2,314.9 197.1,321.6 205,328.5 208,328.5 233.1,113.6 230.1,113.6 223.5,107.7 216.8,102.7 210.2,97.8 203.5,92.8 196.8,87.5 190.2,82.2 183.5,76.9 176.9,71.5 170.2,66.2 163.6,62.2 156.9,59.9 150.3,61.2 143.6,66.4 140.6,66.4" fill="#00a9ff"/><polygon points="100.9,239.9 103.9,239.9 111,246.6 118.6,252.9 126.4,259.2 134.2,265.9 142.1,272.7 149.9,279.5 157.8,286.4 165.7,293.2 173.6,299.9 181.5,306.6 189.4,313.3 197.3,320.0 205.2,326.9 208.2,326.9 233.1,113.6 230.1,113.6 223.5,107.7 216.8,102.7 210.2,97.8 203.5,92.8 196.8,87.5 190.2,82.2 183.5,76.9 176.9,71.5 170.2,66.2 163.6,62.2 156.9,59.9 150.3,61.2 143.6,66.4 140.6,66.4" fill="#00afff"/><polygon points="101.2,238.4 104.2,238.4 111.3,245.1 118.9,251.4 126.7,257.6 134.5,264.3 142.3,271.1 150.2,278.0 158.1,284.8 165.9,291.6 173.8,298.3 181.7,305.0 189.6,311.7 197.5,318.3 205.4,325.3 208.4,325.3 233.1,113.6 230.1,113.6 223.5,107.7 216.8,102.7 210.2,97.8 203.5,92.8 196.8,87.5 190.2,82.2 183.5,76.9 176.9,71.5 170.2,66.2 163.6,62.2 156.9,59.9 150.3,61.2 143.6,66.4 140.6,66.4" fill="#00b6ff"/><polygon points="101.5,236.9 104.5,236.9 111.7,243.6 119.2,249.9 127,256.1 134.8,262.8 142.6,269.6 150.5,276.4 158.3,283.2 166.2,290.0 174.1,296.8 181.9,303.4 189.8,310.1 197.7,316.7 205.6,323.7 208.6,323.7 233.1,113.6 230.1,113.6 223.5,107.7 216.8,102.7 210.2,97.8 203.5,92.8 196.8,87.5 190.2,82.2 183.5,76.9 176.9,71.5 170.2,66.2 163.6,62.2 156.9,59.9 150.3,61.2 143.6,66.4 140.6,66.4" fill="#00bcff"/><polygon points="101.9,235.4 104.9,235.4 112,242.0 119.5,248.3 127.3,254.6 135,261.2 142.9,268.0 150.7,274.8 158.6,281.6 166.4,288.4 174.3,295.2 182.2,301.8 190,308.5 197.9,315.1 205.8,322.0 208.8,322.0 233.1,113.6 230.1,113.6 223.5,107.7 216.8,102.7 210.2,97.8 203.5,92.8 196.8,87.5 190.2,82.2 183.5,76.9 176.9,71.5 170.2,66.2 163.6,62.2 156.9,59.9 150.3,61.2 143.6,66.4 140.6,66.4" fill="#00c2ff"/><polygon points="102.2,234.0 105.2,234.0 112.3,240.6 119.8,246.8 127.5,253.0 135.3,259.6 143.1,266.5 151,273.3 158.8,280.1 166.7,286.8 174.5,293.6 182.4,300.2 190.2,306.8 198.1,313.5 206,320.4 209,320.4 233.1,113.6 230.1,113.6 223.5,107.7 216.8,102.7 210.2,97.8 203.5,92.8 196.8,87.5 190.2,82.2 183.5,76.9 176.9,71.5 170.2,66.2 163.6,62.2 156.9,59.9 150.3,61.2 143.6,66.4 140.6,66.4" fill="#00c9ff"/><polygon points="102.6,232.5 105.6,232.5 112.6,239.1 120.1,245.3 127.8,251.5 135.6,258.1 143.4,264.9 151.2,271.7 159.1,278.5 166.9,285.3 174.7,292.0 182.6,298.6 190.4,305.2 198.3,311.9 206.2,318.8 209.2,318.8 233.1,113.6 230.1,113.6 223.5,107.7 216.8,102.7 210.2,97.8 203.5,92.8 196.8,87.5 190.2,82.2 183.5,76.9 176.9,71.5 170.2,66.2 163.6,62.2 156.9,59.9 150.3,61.2 143.6,66.4 140.6,66.4" fill="#00cfff"/><polygon points="102.9,231.0 105.9,231.0 112.9,237.6 120.4,243.8 128.1,249.9 135.9,256.6 143.7,263.3 151.5,270.1 159.3,276.9 167.1,283.7 175,290.4 182.8,297.0 190.7,303.6 198.5,310.3 206.3,317.2 209.3,317.2 233.1,113.6 230.1,113.6 223.5,107.7 216.8,102.7 210.2,97.8 203.5,92.8 196.8,87.5 190.2,82.2 183.5,76.9 176.9,71.5 170.2,66.2 163.6,62.2 156.9,59.9 150.3,61.2 143.6,66.4 140.6,66.4" fill="#00d6ff"/><polygon points="103.2,229.5 106.2,229.5 113.2,236.1 120.7,242.3 128.4,248.4 136.2,255.0 144,261.8 151.8,268.6 159.6,275.4 167.4,282.1 175.2,288.8 183,295.4 190.9,302.0 198.7,308.6 206.5,315.6 209.5,315.6 233.1,113.6 230.1,113.6 223.5,107.7 216.8,102.7 210.2,97.8 203.5,92.8 196.8,87.5 190.2,82.2 183.5,76.9 176.9,71.5 170.2,66.2 163.6,62.2 156.9,59.9 150.3,61.2 143.6,66.4 140.6,66.4" fill="#00dcff"/><polygon points="103.6,228.1 106.6,228.1 113.5,234.6 121,240.8 128.7,246.9 136.4,253.5 144.2,260.3 152,267.0 159.8,273.8 167.6,280.5 175.4,287.2 183.2,293.8 191.1,300.4 198.9,307.0 206.7,313.9 209.7,313.9 233.1,113.6 230.1,113.6 223.5,107.7 216.8,102.7 210.2,97.8 203.5,92.8 196.8,87.5 190.2,82.2 183.5,76.9 176.9,71.5 170.2,66.2 163.6,62.2 156.9,59.9 150.3,61.2 143.6,66.4 140.6,66.4" fill="#00e2ff"/><polygon points="103.9,226.6 106.9,226.6 113.9,233.1 121.3,239.3 129,245.4 136.7,252.0 144.5,258.7 152.3,265.5 160.1,272.2 167.9,279.0 175.7,285.7 183.5,292.3 191.3,298.8 199.1,305.4 206.9,312.3 209.9,312.3 233.1,113.6 230.1,113.6 223.5,107.7 216.8,102.7 210.2,97.8 203.5,92.8 196.8,87.5 190.2,82.2 183.5,76.9 176.9,71.5 170.2,66.2 163.6,62.2 156.9,59.9 150.3,61.2 143.6,66.4 140.6,66.4" fill="#00e9ff"/><polygon points="104.2,225.1 107.2,225.1 114.2,231.7 121.6,237.8 129.3,243.9 137,250.4 144.8,257.2 152.5,263.9 160.3,270.7 168.1,277.4 175.9,284.1 183.7,290.7 191.5,297.2 199.3,303.8 207.1,310.7 210.1,310.7 233.1,113.6 230.1,113.6 223.5,107.7 216.8,102.7 210.2,97.8 203.5,92.8 196.8,87.5 190.2,82.2 183.5,76.9 176.9,71.5 170.2,66.2 163.6,62.2 156.9,59.9 150.3,61.2 143.6,66.4 140.6,66.4" fill="#00efff"/><polygon points="104.6,223.6 107.6,223.6 114.5,230.2 121.9,236.3 129.6,242.3 137.3,248.9 145,255.7 152.8,262.4 160.6,269.1 168.3,275.8 176.1,282.5 183.9,289.1 191.7,295.6 199.5,302.2 207.3,309.1 210.3,309.1 233.1,113.6 230.1,113.6 223.5,107.7 216.8,102.7 210.2,97.8 203.5,92.8 196.8,87.5 190.2,82.2 183.5,76.9 176.9,71.5 170.2,66.2 163.6,62.2 156.9,59.9 150.3,61.2 143.6,66.4 140.6,66.4" fill="#00f5ff"/><polygon points="104.9,222.2 107.9,222.2 114.8,228.7 122.2,234.8 129.8,240.8 137.5,247.4 145.3,254.1 153,260.9 160.8,267.6 168.6,274.3 176.3,280.9 184.1,287.5 191.9,294.0 199.7,300.6 207.5,307.5 210.5,307.5 233.1,113.6 230.1,113.6 223.5,107.7 216.8,102.7 210.2,97.8 203.5,92.8 196.8,87.5 190.2,82.2 183.5,76.9 176.9,71.5 170.2,66.2 163.6,62.2 156.9,59.9 150.3,61.2 143.6,66.4 140.6,66.4" fill="#00fcff"/><polygon points="105.3,220.7 108.3,220.7 115.1,227.2 122.5,233.3 130.1,239.3 137.8,245.8 145.6,252.6 153.3,259.3 161,266.0 168.8,272.7 176.6,279.4 184.3,285.9 192.1,292.4 199.9,299.0 207.7,305.8 210.7,305.8 233.1,113.6 230.1,113.6 223.5,107.7 216.8,102.7 210.2,97.8 203.5,92.8 196.8,87.5 190.2,82.2 183.5,76.9 176.9,71.5 170.2,66.2 163.6,62.2 156.9,59.9 150.3,61.2 143.6,66.4 140.6,66.4" fill="#00fff9"/><polygon points="105.6,219.2 108.6,219.2 115.4,225.7 122.8,231.8 130.4,237.8 138.1,244.3 145.8,251.0 153.6,257.8 161.3,264.5 169,271.2 176.8,277.8 184.6,284.3 192.3,290.8 200.1,297.4 207.9,304.2 210.9,304.2 233.1,113.6 230.1,113.6 223.5,107.7 216.8,102.7 210.2,97.8 203.5,92.8 196.8,87.5 190.2,82.2 183.5,76.9 176.9,71.5 170.2,66.2 163.6,62.2 156.9,59.9 150.3,61.2 143.6,66.4 140.6,66.4" fill="#00ffec"/><polygon points="105.9,217.7 108.9,217.7 115.7,224.3 123.1,230.3 130.7,236.3 138.4,242.8 146.1,249.5 153.8,256.2 161.5,262.9 169.3,269.6 177,276.2 184.8,282.7 192.5,289.2 200.3,295.7 208,302.6 211,302.6 233.1,113.6 230.1,113.6 223.5,107.7 216.8,102.7 210.2,97.8 203.5,92.8 196.8,87.5 190.2,82.2 183.5,76.9 176.9,71.5 170.2,66.2 163.6,62.2 156.9,59.9 150.3,61.2 143.6,66.4 140.6,66.4" fill="#00ffdf"/><polygon points="106.3,216.3 109.3,216.3 116.1,222.8 123.4,228.8 131,234.8 138.6,241.3 146.3,248.0 154.1,254.7 161.8,261.4 169.5,268.1 177.2,274.7 185,281.2 192.7,287.7 200.5,294.2 208.2,301.0 211.2,301.0 233.1,113.6 230.1,113.6 223.5,107.7 216.8,102.7 210.2,97.8 203.5,92.8 196.8,87.5 190.2,82.2 183.5,76.9 176.9,71.5 170.2,66.2 163.6,62.2 156.9,59.9 150.3,61.2 143.6,66.4 140.6,66.4" fill="#00ffd2"/><polygon points="106.6,214.8 109.6,214.8 116.4,221.3 123.7,227.3 131.3,233.3 138.9,239.8 146.6,246.5 154.3,253.2 162,259.9 169.7,266.6 177.5,273.2 185.2,279.7 192.9,286.2 200.7,292.7 208.4,299.5 211.4,299.5 233.1,113.6 230.1,113.6 223.5,107.7 216.8,102.7 210.2,97.8 203.5,92.8 196.8,87.5 190.2,82.2 183.5,76.9 176.9,71.5 170.2,66.2 163.6,62.2 156.9,59.9 150.3,61.2 143.6,66.4 140.6,66.4" fill="#00ffc6"/><polygon points="106.9,213.3 109.9,213.3 116.7,219.8 124,225.8 131.6,231.8 139.2,238.3 146.9,245.0 154.6,251.7 162.3,258.4 170,265.1 177.7,271.7 185.4,278.2 193.1,284.6 200.9,291.1 208.6,298.0 211.6,298.0 233.1,113.6 230.1,113.6 223.5,107.7 216.8,102.7 210.2,97.8 203.5,92.8 196.8,87.5 190.2,82.2 183.5,76.9 176.9,71.5 170.2,66.2 163.6,62.2 156.9,59.9 150.3,61.2 143.6,66.4 140.6,66.4" fill="#00ffb9"/><polygon points="107.3,211.8 110.3,211.8 117,218.3 124.2,224.4 131.8,230.3 139.4,236.8 147.1,243.5 154.8,250.2 162.5,256.9 170.2,263.5 177.9,270.2 185.6,276.6 193.3,283.1 201,289.6 208.8,296.4 211.8,296.4 233.1,113.6 230.1,113.6 223.5,107.7 216.8,102.7 210.2,97.8 203.5,92.8 196.8,87.5 190.2,82.2 183.5,76.9 176.9,71.5 170.2,66.2 163.6,62.2 156.9,59.9 150.3,61.2 143.6,66.4 140.6,66.4" fill="#00ffac"/><polygon points="107.6,210.3 110.6,210.3 117.3,216.9 124.5,222.9 132.1,228.8 139.7,235.3 147.4,242.0 155.1,248.7 162.7,255.4 170.4,262.0 178.1,268.6 185.8,275.1 193.5,281.6 201.2,288.1 208.9,294.9 211.9,294.9 233.1,113.6 230.1,113.6 223.5,107.7 216.8,102.7 210.2,97.8 203.5,92.8 196.8,87.5 190.2,82.2 183.5,76.9 176.9,71.5 170.2,66.2 163.6,62.2 156.9,59.9 150.3,61.2 143.6,66.4 140.6,66.4" fill="#00ff9f"/><polygon points="108,208.9 111,208.9 117.6,215.4 124.8,221.4 132.4,227.3 140,233.8 147.6,240.5 155.3,247.2 163,253.9 170.6,260.5 178.3,267.1 186,273.6 193.7,280.0 201.4,286.5 209.1,293.4 212.1,293.4 233.1,113.6 230.1,113.6 223.5,107.7 216.8,102.7 210.2,97.8 203.5,92.8 196.8,87.5 190.2,82.2 183.5,76.9 176.9,71.5 170.2,66.2 163.6,62.2 156.9,59.9 150.3,61.2 143.6,66.4 140.6,66.4" fill="#00ff93"/><polygon points="108.3,207.3 111.3,207.3 117.9,213.9 125.1,219.9 132.7,225.8 140.3,232.3 147.9,239.0 155.6,245.7 163.2,252.3 170.9,259.0 178.6,265.6 186.2,272.1 193.9,278.5 201.6,285.0 209.3,291.8 212.3,291.8 233.1,113.6 230.1,113.6 223.5,107.7 216.8,102.7 210.2,97.8 203.5,92.8 196.8,87.5 190.2,82.2 183.5,76.9 176.9,71.5 170.2,66.2 163.6,62.2 156.9,59.9 150.3,61.2 143.6,66.4 140.6,66.4" fill="#00ff86"/><polygon points="108.7,205.6 111.7,205.6 118.2,212.4 125.4,218.4 133,224.3 140.5,230.8 148.2,237.5 155.8,244.2 163.5,250.8 171.1,257.5 178.8,264.1 186.4,270.5 194.1,277.0 201.8,283.5 209.5,290.3 212.5,290.3 233.1,113.6 230.1,113.6 223.5,107.7 216.8,102.7 210.2,97.8 203.5,92.8 196.8,87.5 190.2,82.2 183.5,76.9 176.9,71.5 170.2,66.2 163.6,62.2 156.9,59.9 150.3,61.2 143.6,66.4 140.6,66.4" fill="#00ff79"/><polygon points="109.1,203.9 112.1,203.9 118.6,211.0 125.7,216.9 133.3,222.8 140.8,229.3 148.4,236.0 156.1,242.7 163.7,249.3 171.3,256.0 179,262.6 186.7,269.0 194.3,275.5 202,281.9 209.7,288.8 212.7,288.8 233.1,113.6 230.1,113.6 223.5,107.7 216.8,102.7 210.2,97.8 203.5,92.8 196.8,87.5 190.2,82.2 183.5,76.9 176.9,71.5 170.2,66.2 163.6,62.2 156.9,59.9 150.3,61.2 143.6,66.4 140.6,66.4" fill="#00ff6c"/><polygon points="109.5,202.3 112.5,202.3 118.9,209.4 126,215.4 133.5,221.3 141.1,227.8 148.7,234.5 156.3,241.1 163.9,247.8 171.6,254.5 179.2,261.0 186.9,267.5 194.5,273.9 202.2,280.4 209.8,287.2 212.8,287.2 233.1,113.6 230.1,113.6 223.5,107.7 216.8,102.7 210.2,97.8 203.5,92.8 196.8,87.5 190.2,82.2 183.5,76.9 176.9,71.5 170.2,66.2 163.6,62.2 156.9,59.9 150.3,61.2 143.6,66.4 140.6,66.4" fill="#00ff60"/><polygon points="109.9,200.6 112.9,200.6 119.2,207.7 126.3,213.9 133.8,219.8 141.3,226.3 148.9,232.9 156.6,239.6 164.2,246.3 171.8,252.9 179.4,259.5 187.1,266.0 194.7,272.4 202.4,278.9 210,285.7 213,285.7 233.1,113.6 230.1,113.6 223.5,107.7 216.8,102.7 210.2,97.8 203.5,92.8 196.8,87.5 190.2,82.2 183.5,76.9 176.9,71.5 170.2,66.2 163.6,62.2 156.9,59.9 150.3,61.2 143.6,66.4 140.6,66.4" fill="#00ff53"/><polygon points="110.2,198.9 113.2,198.9 119.6,206.1 126.6,212.3 134.1,218.3 141.6,224.7 149.2,231.4 156.8,238.1 164.4,244.8 172,251.4 179.7,258.0 187.3,264.5 194.9,270.9 202.6,277.3 210.2,284.2 213.2,284.2 233.1,113.6 230.1,113.6 223.5,107.7 216.8,102.7 210.2,97.8 203.5,92.8 196.8,87.5 190.2,82.2 183.5,76.9 176.9,71.5 170.2,66.2 163.6,62.2 156.9,59.9 150.3,61.2 143.6,66.4 140.6,66.4" fill="#00ff46"/><polygon points="110.6,197.3 113.6,197.3 119.9,204.4 127,210.7 134.4,216.6 141.9,223.1 149.5,229.9 157.1,236.6 164.7,243.3 172.3,249.9 179.9,256.5 187.5,262.9 195.1,269.3 202.7,275.8 210.4,282.6 213.4,282.6 233.1,113.6 230.1,113.6 223.5,107.7 216.8,102.7 210.2,97.8 203.5,92.8 196.8,87.5 190.2,82.2 183.5,76.9 176.9,71.5 170.2,66.2 163.6,62.2 156.9,59.9 150.3,61.2 143.6,66.4 140.6,66.4" fill="#00ff39"/><polygon points="111,195.6 114,195.6 120.3,202.8 127.3,209.0 134.7,215.0 142.2,221.5 149.8,228.3 157.3,235.0 164.9,241.7 172.5,248.4 180.1,254.9 187.7,261.4 195.3,267.8 202.9,274.2 210.6,281.1 213.6,281.1 233.1,113.6 230.1,113.6 223.5,107.7 216.8,102.7 210.2,97.8 203.5,92.8 196.8,87.5 190.2,82.2 183.5,76.9 176.9,71.5 170.2,66.2 163.6,62.2 156.9,59.9 150.3,61.2 143.6,66.4 140.6,66.4" fill="#00ff2d"/><polygon points="111.4,193.9 114.4,193.9 120.6,201.1 127.6,207.4 135,213.3 142.5,219.9 150,226.6 157.6,233.4 165.2,240.1 172.7,246.8 180.3,253.4 187.9,259.8 195.5,266.3 203.1,272.7 210.7,279.6 213.7,279.6 233.1,113.6 230.1,113.6 223.5,107.7 216.8,102.7 210.2,97.8 203.5,92.8 196.8,87.5 190.2,82.2 183.5,76.9 176.9,71.5 170.2,66.2 163.6,62.2 156.9,59.9 150.3,61.2 143.6,66.4 140.6,66.4" fill="#00ff20"/><polygon points="111.8,192.3 114.8,192.3 121,199.4 127.9,205.7 135.4,211.7 142.8,218.2 150.3,225.0 157.9,231.8 165.4,238.5 173,245.2 180.5,251.8 188.1,258.3 195.7,264.7 203.3,271.2 210.9,278.0 213.9,278.0 233.1,113.6 230.1,113.6 223.5,107.7 216.8,102.7 210.2,97.8 203.5,92.8 196.8,87.5 190.2,82.2 183.5,76.9 176.9,71.5 170.2,66.2 163.6,62.2 156.9,59.9 150.3,61.2 143.6,66.4 140.6,66.4" fill="#00ff13"/><polygon points="112.2,190.6 115.2,190.6 121.4,197.8 128.3,204.0 135.7,210.0 143.1,216.6 150.6,223.4 158.1,230.2 165.7,236.9 173.2,243.6 180.8,250.2 188.3,256.7 195.9,263.1 203.5,269.6 211.1,276.5 214.1,276.5 233.1,113.6 230.1,113.6 223.5,107.7 216.8,102.7 210.2,97.8 203.5,92.8 196.8,87.5 190.2,82.2 183.5,76.9 176.9,71.5 170.2,66.2 163.6,62.2 156.9,59.9 150.3,61.2 143.6,66.4 140.6,66.4" fill="#00ff06"/><polygon points="112.5,188.9 115.5,188.9 121.7,196.1 128.6,202.3 136,208.3 143.4,214.9 150.9,221.7 158.4,228.5 165.9,235.3 173.4,242.0 181,248.7 188.6,255.1 196.1,261.6 203.7,268.1 211.3,275.0 214.3,275.0 233.1,113.6 230.1,113.6 223.5,107.7 216.8,102.7 210.2,97.8 203.5,92.8 196.8,87.5 190.2,82.2 183.5,76.9 176.9,71.5 170.2,66.2 163.6,62.2 156.9,59.9 150.3,61.2 143.6,66.4 140.6,66.4" fill="#06ff00"/><polygon points="112.9,187.3 115.9,187.3 122.1,194.4 129,200.6 136.3,206.5 143.7,213.1 151.2,220.0 158.7,226.8 166.2,233.6 173.7,240.3 181.2,247.0 188.8,253.6 196.3,260.0 203.9,266.5 211.5,273.4 214.5,273.4 233.1,113.6 230.1,113.6 223.5,107.7 216.8,102.7 210.2,97.8 203.5,92.8 196.8,87.5 190.2,82.2 183.5,76.9 176.9,71.5 170.2,66.2 163.6,62.2 156.9,59.9 150.3,61.2 143.6,66.4 140.6,66.4" fill="#13ff00"/><polygon points="113.3,185.6 116.3,185.6 122.4,192.7 129.3,198.9 136.6,204.8 144,211.4 151.5,218.2 159,225.0 166.5,231.8 174,238.5 181.5,245.2 189,251.8 196.6,258.3 204.1,264.8 211.6,271.9 214.6,271.9 233.1,113.6 230.1,113.6 223.5,107.7 216.8,102.7 210.2,97.8 203.5,92.8 196.8,87.5 190.2,82.2 183.5,76.9 176.9,71.5 170.2,66.2 163.6,62.2 156.9,59.9 150.3,61.2 143.6,66.4 140.6,66.4" fill="#20ff00"/><polygon points="113.7,183.9 116.7,183.9 122.8,191.0 129.6,197.2 137,203.1 144.3,209.6 151.8,216.4 159.3,223.2 166.8,230.0 174.2,236.7 181.8,243.4 189.3,249.9 196.8,256.4 204.3,263.0 211.9,270.0 214.9,270.0 233.1,113.6 230.1,113.6 223.5,107.7 216.8,102.7 210.2,97.8 203.5,92.8 196.8,87.5 190.2,82.2 183.5,76.9 176.9,71.5 170.2,66.2 163.6,62.2 156.9,59.9 150.3,61.2 143.6,66.4 140.6,66.4" fill="#2dff00"/><polygon points="114.1,182.3 117.1,182.3 123.1,189.4 130,195.5 137.3,201.4 144.7,207.9 152.1,214.7 159.6,221.4 167,228.2 174.5,234.9 182,241.6 189.5,248.1 197,254.6 204.6,261.1 212.1,268.1 215.1,268.1 233.1,113.6 230.1,113.6 223.5,107.7 216.8,102.7 210.2,97.8 203.5,92.8 196.8,87.5 190.2,82.2 183.5,76.9 176.9,71.5 170.2,66.2 163.6,62.2 156.9,59.9 150.3,61.2 143.6,66.4 140.6,66.4" fill="#39ff00"/><polygon points="114.4,180.6 117.4,180.6 123.5,187.7 130.3,193.8 137.6,199.6 145,206.2 152.4,212.9 159.9,219.7 167.3,226.4 174.8,233.1 182.3,239.7 189.8,246.2 197.3,252.7 204.8,259.2 212.3,266.2 215.3,266.2 233.1,113.6 230.1,113.6 223.5,107.7 216.8,102.7 210.2,97.8 203.5,92.8 196.8,87.5 190.2,82.2 183.5,76.9 176.9,71.5 170.2,66.2 163.6,62.2 156.9,59.9 150.3,61.2 143.6,66.4 140.6,66.4" fill="#46ff00"/><polygon points="114.8,178.9 117.8,178.9 123.8,186.0 130.6,192.1 138,197.9 145.3,204.4 152.7,211.1 160.2,217.9 167.6,224.6 175.1,231.3 182.6,237.9 190,244.4 197.5,250.8 205,257.3 212.5,264.3 215.5,264.3 233.1,113.6 230.1,113.6 223.5,107.7 216.8,102.7 210.2,97.8 203.5,92.8 196.8,87.5 190.2,82.2 183.5,76.9 176.9,71.5 170.2,66.2 163.6,62.2 156.9,59.9 150.3,61.2 143.6,66.4 140.6,66.4" fill="#53ff00"/><polygon points="115.2,177.5 118.2,177.5 124.2,184.3 131,190.4 138.3,196.2 145.6,202.7 153,209.4 160.5,216.1 167.9,222.8 175.3,229.5 182.8,236.1 190.3,242.6 197.8,249.0 205.3,255.4 212.7,262.4 215.7,262.4 233.1,113.6 230.1,113.6 223.5,107.7 216.8,102.7 210.2,97.8 203.5,92.8 196.8,87.5 190.2,82.2 183.5,76.9 176.9,71.5 170.2,66.2 163.6,62.2 156.9,59.9 150.3,61.2 143.6,66.4 140.6,66.4" fill="#60ff00"/><polygon points="115.5,176.0 118.5,176.0 124.6,182.6 131.3,188.7 138.6,194.4 145.9,200.9 153.3,207.6 160.8,214.3 168.2,221.0 175.6,227.7 183.1,234.3 190.5,240.7 198,247.1 205.5,253.6 213,260.5 216,260.5 233.1,113.6 230.1,113.6 223.5,107.7 216.8,102.7 210.2,97.8 203.5,92.8 196.8,87.5 190.2,82.2 183.5,76.9 176.9,71.5 170.2,66.2 163.6,62.2 156.9,59.9 150.3,61.2 143.6,66.4 140.6,66.4" fill="#6cff00"/><polygon points="115.8,174.6 118.8,174.6 124.9,181.0 131.7,187.0 138.9,192.7 146.2,199.2 153.6,205.9 161,212.6 168.5,219.2 175.9,225.9 183.3,232.5 190.8,238.9 198.3,245.3 205.7,251.7 213.2,258.6 216.2,258.6 233.1,113.6 230.1,113.6 223.5,107.7 216.8,102.7 210.2,97.8 203.5,92.8 196.8,87.5 190.2,82.2 183.5,76.9 176.9,71.5 170.2,66.2 163.6,62.2 156.9,59.9 150.3,61.2 143.6,66.4 140.6,66.4" fill="#79ff00"/><polygon points="116.1,173.2 119.1,173.2 125.3,179.3 132,185.3 139.3,191.0 146.5,197.4 153.9,204.1 161.3,210.8 168.7,217.4 176.2,224.1 183.6,230.6 191,237.0 198.5,243.4 205.9,249.8 213.4,256.7 216.4,256.7 233.1,113.6 230.1,113.6 223.5,107.7 216.8,102.7 210.2,97.8 203.5,92.8 196.8,87.5 190.2,82.2 183.5,76.9 176.9,71.5 170.2,66.2 163.6,62.2 156.9,59.9 150.3,61.2 143.6,66.4 140.6,66.4" fill="#86ff00"/><polygon points="116.5,171.8 119.5,171.8 125.6,177.8 132.3,183.6 139.6,189.2 146.9,195.7 154.2,202.3 161.6,209.0 169,215.6 176.4,222.3 183.9,228.8 191.3,235.2 198.7,241.5 206.2,247.9 213.6,254.8 216.6,254.8 233.1,113.6 230.1,113.6 223.5,107.7 216.8,102.7 210.2,97.8 203.5,92.8 196.8,87.5 190.2,82.2 183.5,76.9 176.9,71.5 170.2,66.2 163.6,62.2 156.9,59.9 150.3,61.2 143.6,66.4 140.6,66.4" fill="#93ff00"/><polygon points="116.8,170.4 119.8,170.4 125.9,176.3 132.7,181.9 139.9,187.5 147.2,193.9 154.6,200.6 161.9,207.2 169.3,213.9 176.7,220.5 184.1,227.0 191.6,233.3 199,239.7 206.4,246.0 213.9,252.9 216.9,252.9 233.1,113.6 230.1,113.6 223.5,107.7 216.8,102.7 210.2,97.8 203.5,92.8 196.8,87.5 190.2,82.2 183.5,76.9 176.9,71.5 170.2,66.2 163.6,62.2 156.9,59.9 150.3,61.2 143.6,66.4 140.6,66.4" fill="#9fff00"/><polygon points="117.1,169.0 120.1,169.0 126.2,174.9 133,180.3 140.2,185.8 147.5,192.2 154.9,198.8 162.2,205.5 169.6,212.1 177,218.7 184.4,225.2 191.8,231.5 199.2,237.8 206.6,244.2 214.1,251.0 217.1,251.0 233.1,113.6 230.1,113.6 223.5,107.7 216.8,102.7 210.2,97.8 203.5,92.8 196.8,87.5 190.2,82.2 183.5,76.9 176.9,71.5 170.2,66.2 163.6,62.2 156.9,59.9 150.3,61.2 143.6,66.4 140.6,66.4" fill="#acff00"/><polygon points="117.4,167.6 120.4,167.6 126.5,173.5 133.3,178.9 140.5,184.3 147.8,190.5 155.2,197.1 162.5,203.7 169.9,210.3 177.3,216.9 184.7,223.3 192.1,229.7 199.5,235.9 206.9,242.3 214.3,249.1 217.3,249.1 233.1,113.6 230.1,113.6 223.5,107.7 216.8,102.7 210.2,97.8 203.5,92.8 196.8,87.5 190.2,82.2 183.5,76.9 176.9,71.5 170.2,66.2 163.6,62.2 156.9,59.9 150.3,61.2 143.6,66.4 140.6,66.4" fill="#b9ff00"/><polygon points="117.8,166.1 120.8,166.1 126.8,172.0 133.6,177.4 140.8,182.7 148.1,188.9 155.4,195.5 162.8,202.0 170.2,208.5 177.5,215.1 184.9,221.5 192.3,227.8 199.7,234.1 207.1,240.4 214.5,247.2 217.5,247.2 233.1,113.6 230.1,113.6 223.5,107.7 216.8,102.7 210.2,97.8 203.5,92.8 196.8,87.5 190.2,82.2 183.5,76.9 176.9,71.5 170.2,66.2 163.6,62.2 156.9,59.9 150.3,61.2 143.6,66.4 140.6,66.4" fill="#c6ff00"/><polygon points="118.1,164.7 121.1,164.7 127.1,170.6 133.9,175.9 141.1,181.2 148.4,187.4 155.7,193.9 163.1,200.4 170.4,206.9 177.8,213.4 185.2,219.8 192.6,226.0 199.9,232.2 207.3,238.5 214.7,245.3 217.7,245.3 233.1,113.6 230.1,113.6 223.5,107.7 216.8,102.7 210.2,97.8 203.5,92.8 196.8,87.5 190.2,82.2 183.5,76.9 176.9,71.5 170.2,66.2 163.6,62.2 156.9,59.9 150.3,61.2 143.6,66.4 140.6,66.4" fill="#d2ff00"/><polygon points="118.4,163.3 121.4,163.3 127.4,169.2 134.2,174.5 141.4,179.7 148.6,185.9 156,192.3 163.3,198.8 170.7,205.3 178,211.7 185.4,218.1 192.8,224.3 200.2,230.4 207.6,236.7 215,243.4 218,243.4 233.1,113.6 230.1,113.6 223.5,107.7 216.8,102.7 210.2,97.8 203.5,92.8 196.8,87.5 190.2,82.2 183.5,76.9 176.9,71.5 170.2,66.2 163.6,62.2 156.9,59.9 150.3,61.2 143.6,66.4 140.6,66.4" fill="#dfff00"/><polygon points="118.7,161.9 121.7,161.9 127.7,167.7 134.4,173.0 141.7,178.2 148.9,184.3 156.2,190.8 163.6,197.2 170.9,203.7 178.3,210.1 185.7,216.4 193,222.6 200.4,228.7 207.8,234.9 215.2,241.6 218.2,241.6 233.1,113.6 230.1,113.6 223.5,107.7 216.8,102.7 210.2,97.8 203.5,92.8 196.8,87.5 190.2,82.2 183.5,76.9 176.9,71.5 170.2,66.2 163.6,62.2 156.9,59.9 150.3,61.2 143.6,66.4 140.6,66.4" fill="#ecff00"/><polygon points="119.1,160.5 122.1,160.5 128,166.3 134.7,171.5 141.9,176.7 149.2,182.8 156.5,189.2 163.8,195.7 171.2,202.1 178.5,208.5 185.9,214.8 193.3,220.9 200.6,227.0 208,233.1 215.4,239.8 218.4,239.8 233.1,113.6 230.1,113.6 223.5,107.7 216.8,102.7 210.2,97.8 203.5,92.8 196.8,87.5 190.2,82.2 183.5,76.9 176.9,71.5 170.2,66.2 163.6,62.2 156.9,59.9 150.3,61.2 143.6,66.4 140.6,66.4" fill="#f9ff00"/><polygon points="119.4,159.1 122.4,159.1 128.3,164.8 135,170.1 142.2,175.2 149.5,181.3 156.8,187.7 164.1,194.1 171.4,200.5 178.8,206.8 186.1,213.1 193.5,219.2 200.9,225.3 208.2,231.4 215.6,238.1 218.6,238.1 233.1,113.6 230.1,113.6 223.5,107.7 216.8,102.7 210.2,97.8 203.5,92.8 196.8,87.5 190.2,82.2 183.5,76.9 176.9,71.5 170.2,66.2 163.6,62.2 156.9,59.9 150.3,61.2 143.6,66.4 140.6,66.4" fill="#fffc00"/><polygon points="119.7,157.7 122.7,157.7 128.6,163.4 135.3,168.6 142.5,173.7 149.7,179.8 157,186.2 164.4,192.5 171.7,198.9 179,205.2 186.4,211.5 193.7,217.5 201.1,223.6 208.4,229.6 215.8,236.3 218.8,236.3 233.1,113.6 230.1,113.6 223.5,107.7 216.8,102.7 210.2,97.8 203.5,92.8 196.8,87.5 190.2,82.2 183.5,76.9 176.9,71.5 170.2,66.2 163.6,62.2 156.9,59.9 150.3,61.2 143.6,66.4 140.6,66.4" fill="#fff500"/><polygon points="120,156.2 123,156.2 128.9,162.0 135.6,167.1 142.8,172.3 150,178.3 157.3,184.6 164.6,191.0 171.9,197.3 179.3,203.6 186.6,209.8 194,215.9 201.3,221.9 208.6,227.9 216,234.5 219,234.5 233.1,113.6 230.1,113.6 223.5,107.7 216.8,102.7 210.2,97.8 203.5,92.8 196.8,87.5 190.2,82.2 183.5,76.9 176.9,71.5 170.2,66.2 163.6,62.2 156.9,59.9 150.3,61.2 143.6,66.4 140.6,66.4" fill="#ffef00"/><polygon points="120.3,154.8 123.3,154.8 129.2,160.5 135.9,165.7 143.1,170.8 150.3,176.7 157.6,183.1 164.9,189.4 172.2,195.7 179.5,202.0 186.8,208.2 194.2,214.2 201.5,220.1 208.9,226.2 216.2,232.8 219.2,232.8 233.1,113.6 230.1,113.6 223.5,107.7 216.8,102.7 210.2,97.8 203.5,92.8 196.8,87.5 190.2,82.2 183.5,76.9 176.9,71.5 170.2,66.2 163.6,62.2 156.9,59.9 150.3,61.2 143.6,66.4 140.6,66.4" fill="#ffe900"/><polygon points="120.7,153.4 123.7,153.4 129.5,159.1 136.2,164.2 143.4,169.3 150.6,175.2 157.8,181.5 165.1,187.8 172.4,194.1 179.8,200.4 187.1,206.5 194.4,212.5 201.7,218.4 209.1,224.4 216.4,231.0 219.4,231.0 233.1,113.6 230.1,113.6 223.5,107.7 216.8,102.7 210.2,97.8 203.5,92.8 196.8,87.5 190.2,82.2 183.5,76.9 176.9,71.5 170.2,66.2 163.6,62.2 156.9,59.9 150.3,61.2 143.6,66.4 140.6,66.4" fill="#ffe200"/><polygon points="121,152.0 124,152.0 129.8,157.7 136.5,162.7 143.6,167.8 150.8,173.7 158.1,180.0 165.4,186.3 172.7,192.5 180,198.7 187.3,204.9 194.6,210.8 202,216.7 209.3,222.7 216.6,229.2 219.6,229.2 233.1,113.6 230.1,113.6 223.5,107.7 216.8,102.7 210.2,97.8 203.5,92.8 196.8,87.5 190.2,82.2 183.5,76.9 176.9,71.5 170.2,66.2 163.6,62.2 156.9,59.9 150.3,61.2 143.6,66.4 140.6,66.4" fill="#ffdc00"/><polygon points="121.3,150.6 124.3,150.6 130.1,156.2 136.8,161.3 143.9,166.3 151.1,172.2 158.4,178.4 165.7,184.7 173,190.9 180.2,197.1 187.6,203.2 194.9,209.2 202.2,215.0 209.5,221.0 216.8,227.5 219.8,227.5 233.1,113.6 230.1,113.6 223.5,107.7 216.8,102.7 210.2,97.8 203.5,92.8 196.8,87.5 190.2,82.2 183.5,76.9 176.9,71.5 170.2,66.2 163.6,62.2 156.9,59.9 150.3,61.2 143.6,66.4 140.6,66.4" fill="#ffd600"/><polygon points="121.6,149.2 124.6,149.2 130.4,154.8 137.1,159.8 144.2,164.8 151.4,170.6 158.7,176.9 165.9,183.1 173.2,189.3 180.5,195.5 187.8,201.6 195.1,207.5 202.4,213.3 209.7,219.2 217,225.7 220,225.7 233.1,113.6 230.1,113.6 223.5,107.7 216.8,102.7 210.2,97.8 203.5,92.8 196.8,87.5 190.2,82.2 183.5,76.9 176.9,71.5 170.2,66.2 163.6,62.2 156.9,59.9 150.3,61.2 143.6,66.4 140.6,66.4" fill="#ffcf00"/><polygon points="122,147.7 125,147.7 130.7,153.4 137.4,158.3 144.5,163.3 151.7,169.1 158.9,175.3 166.2,181.5 173.5,187.7 180.7,193.9 188,199.9 195.3,205.8 202.6,211.6 209.9,217.5 217.2,223.9 220.2,223.9 233.1,113.6 230.1,113.6 223.5,107.7 216.8,102.7 210.2,97.8 203.5,92.8 196.8,87.5 190.2,82.2 183.5,76.9 176.9,71.5 170.2,66.2 163.6,62.2 156.9,59.9 150.3,61.2 143.6,66.4 140.6,66.4" fill="#ffc900"/><polygon points="122.4,146.0 125.4,146.0 131.1,151.9 137.6,156.9 144.8,161.8 151.9,167.6 159.2,173.8 166.4,180.0 173.7,186.1 181,192.3 188.3,198.3 195.6,204.1 202.9,209.9 210.1,215.7 217.4,222.2 220.4,222.2 233.1,113.6 230.1,113.6 223.5,107.7 216.8,102.7 210.2,97.8 203.5,92.8 196.8,87.5 190.2,82.2 183.5,76.9 176.9,71.5 170.2,66.2 163.6,62.2 156.9,59.9 150.3,61.2 143.6,66.4 140.6,66.4" fill="#ffc200"/><polygon points="122.7,144.4 125.7,144.4 131.4,150.5 137.9,155.4 145.1,160.3 152.2,166.1 159.5,172.2 166.7,178.4 174,184.5 181.2,190.6 188.5,196.6 195.8,202.4 203.1,208.2 210.4,214.0 217.6,220.4 220.6,220.4 233.1,113.6 230.1,113.6 223.5,107.7 216.8,102.7 210.2,97.8 203.5,92.8 196.8,87.5 190.2,82.2 183.5,76.9 176.9,71.5 170.2,66.2 163.6,62.2 156.9,59.9 150.3,61.2 143.6,66.4 140.6,66.4" fill="#ffbc00"/><polygon points="123.1,142.8 126.1,142.8 131.7,149.1 138.2,154.0 145.3,158.8 152.5,164.6 159.7,170.7 167,176.8 174.2,182.9 181.5,189.0 188.7,195.0 196,200.8 203.3,206.5 210.6,212.3 217.9,218.6 220.9,218.6 233.1,113.6 230.1,113.6 223.5,107.7 216.8,102.7 210.2,97.8 203.5,92.8 196.8,87.5 190.2,82.2 183.5,76.9 176.9,71.5 170.2,66.2 163.6,62.2 156.9,59.9 150.3,61.2 143.6,66.4 140.6,66.4" fill="#ffb600"/><polygon points="123.5,141.2 126.5,141.2 132,147.7 138.5,152.5 145.6,157.3 152.7,163.0 160,169.2 167.2,175.3 174.5,181.3 181.7,187.4 189,193.3 196.3,199.1 203.5,204.8 210.8,210.5 218.1,216.9 221.1,216.9 233.1,113.6 230.1,113.6 223.5,107.7 216.8,102.7 210.2,97.8 203.5,92.8 196.8,87.5 190.2,82.2 183.5,76.9 176.9,71.5 170.2,66.2 163.6,62.2 156.9,59.9 150.3,61.2 143.6,66.4 140.6,66.4" fill="#ffaf00"/><polygon points="123.9,139.5 126.9,139.5 132.3,146.1 138.8,151.0 145.9,155.8 153,161.5 160.3,167.6 167.5,173.7 174.7,179.8 182,185.8 189.2,191.7 196.5,197.4 203.7,203.1 211,208.8 218.3,215.1 221.3,215.1 233.1,113.6 230.1,113.6 223.5,107.7 216.8,102.7 210.2,97.8 203.5,92.8 196.8,87.5 190.2,82.2 183.5,76.9 176.9,71.5 170.2,66.2 163.6,62.2 156.9,59.9 150.3,61.2 143.6,66.4 140.6,66.4" fill="#ffa900"/><polygon points="124.2,137.9 127.2,137.9 132.6,144.5 139.1,149.6 146.2,154.3 153.3,160.0 160.5,166.1 167.7,172.1 175,178.2 182.2,184.2 189.5,190.1 196.7,195.7 204,201.4 211.2,207.0 218.5,213.4 221.5,213.4 233.1,113.6 230.1,113.6 223.5,107.7 216.8,102.7 210.2,97.8 203.5,92.8 196.8,87.5 190.2,82.2 183.5,76.9 176.9,71.5 170.2,66.2 163.6,62.2 156.9,59.9 150.3,61.2 143.6,66.4 140.6,66.4" fill="#ffa300"/><polygon points="124.6,136.3 127.6,136.3 133,142.9 139.4,148.1 146.5,152.8 153.6,158.5 160.8,164.6 168,170.6 175.2,176.6 182.4,182.6 189.7,188.4 196.9,194.1 204.2,199.7 211.4,205.4 218.7,211.6 221.7,211.6 233.1,113.6 230.1,113.6 223.5,107.7 216.8,102.7 210.2,97.8 203.5,92.8 196.8,87.5 190.2,82.2 183.5,76.9 176.9,71.5 170.2,66.2 163.6,62.2 156.9,59.9 150.3,61.2 143.6,66.4 140.6,66.4" fill="#ff9c00"/><polygon points="125,134.7 128,134.7 133.3,141.3 139.7,146.5 146.8,151.3 153.8,157.0 161,163.1 168.2,169.1 175.5,175.1 182.7,181.1 189.9,186.9 197.1,192.6 204.4,198.2 211.6,203.8 218.9,210.1 221.9,210.1 233.1,113.6 230.1,113.6 223.5,107.7 216.8,102.7 210.2,97.8 203.5,92.8 196.8,87.5 190.2,82.2 183.5,76.9 176.9,71.5 170.2,66.2 163.6,62.2 156.9,59.9 150.3,61.2 143.6,66.4 140.6,66.4" fill="#ff9600"/><polygon points="125.3,133.0 128.3,133.0 133.7,139.6 140,144.9 147.1,149.6 154.1,155.4 161.3,161.5 168.5,167.5 175.7,173.5 182.9,179.5 190.1,185.4 197.4,191.0 204.6,196.6 211.8,202.3 219,208.6 222,208.6 233.1,113.6 230.1,113.6 223.5,107.7 216.8,102.7 210.2,97.8 203.5,92.8 196.8,87.5 190.2,82.2 183.5,76.9 176.9,71.5 170.2,66.2 163.6,62.2 156.9,59.9 150.3,61.2 143.6,66.4 140.6,66.4" fill="#ff8f00"/><polygon points="125.7,131.4 128.7,131.4 134,138.0 140.4,143.2 147.4,148.0 154.4,153.8 161.6,159.9 168.8,165.9 176,171.9 183.2,177.9 190.4,183.8 197.6,189.5 204.8,195.1 212,200.7 219.2,207.0 222.2,207.0 233.1,113.6 230.1,113.6 223.5,107.7 216.8,102.7 210.2,97.8 203.5,92.8 196.8,87.5 190.2,82.2 183.5,76.9 176.9,71.5 170.2,66.2 163.6,62.2 156.9,59.9 150.3,61.2 143.6,66.4 140.6,66.4" fill="#ff8900"/><polygon points="126.1,129.8 129.1,129.8 134.3,136.4 140.7,141.6 147.7,146.4 154.7,152.2 161.9,158.3 169,164.3 176.2,170.4 183.4,176.4 190.6,182.2 197.8,187.9 205,193.5 212.2,199.2 219.4,205.5 222.4,205.5 233.1,113.6 230.1,113.6 223.5,107.7 216.8,102.7 210.2,97.8 203.5,92.8 196.8,87.5 190.2,82.2 183.5,76.9 176.9,71.5 170.2,66.2 163.6,62.2 156.9,59.9 150.3,61.2 143.6,66.4 140.6,66.4" fill="#ff8300"/><polygon points="126.5,128.2 129.5,128.2 134.7,134.8 141,140.0 148,144.8 155,150.6 162.1,156.7 169.3,162.8 176.5,168.8 183.6,174.8 190.8,180.7 198,186.4 205.2,192.0 212.4,197.6 219.6,203.9 222.6,203.9 233.1,113.6 230.1,113.6 223.5,107.7 216.8,102.7 210.2,97.8 203.5,92.8 196.8,87.5 190.2,82.2 183.5,76.9 176.9,71.5 170.2,66.2 163.6,62.2 156.9,59.9 150.3,61.2 143.6,66.4 140.6,66.4" fill="#ff7c00"/><polygon points="126.8,126.6 129.8,126.6 135,133.2 141.3,138.4 148.3,143.2 155.3,149.0 162.4,155.1 169.6,161.2 176.7,167.2 183.9,173.2 191,179.1 198.2,184.8 205.4,190.4 212.6,196.1 219.8,202.4 222.8,202.4 233.1,113.6 230.1,113.6 223.5,107.7 216.8,102.7 210.2,97.8 203.5,92.8 196.8,87.5 190.2,82.2 183.5,76.9 176.9,71.5 170.2,66.2 163.6,62.2 156.9,59.9 150.3,61.2 143.6,66.4 140.6,66.4" fill="#ff7600"/><polygon points="127.2,124.9 130.2,124.9 135.4,131.6 141.6,136.8 148.6,141.6 155.6,147.3 162.7,153.5 169.8,159.6 177,165.6 184.1,171.7 191.3,177.6 198.4,183.2 205.6,188.9 212.8,194.5 219.9,200.9 222.9,200.9 233.1,113.6 230.1,113.6 223.5,107.7 216.8,102.7 210.2,97.8 203.5,92.8 196.8,87.5 190.2,82.2 183.5,76.9 176.9,71.5 170.2,66.2 163.6,62.2 156.9,59.9 150.3,61.2 143.6,66.4 140.6,66.4" fill="#ff7000"/><polygon points="127.6,123.3 130.6,123.3 135.7,130.0 142,135.2 148.9,140.0 155.9,145.7 163,151.9 170.1,158.0 177.2,164.0 184.3,170.1 191.5,176.0 198.6,181.7 205.8,187.3 213,193.0 220.1,199.3 223.1,199.3 233.1,113.6 230.1,113.6 223.5,107.7 216.8,102.7 210.2,97.8 203.5,92.8 196.8,87.5 190.2,82.2 183.5,76.9 176.9,71.5 170.2,66.2 163.6,62.2 156.9,59.9 150.3,61.2 143.6,66.4 140.6,66.4" fill="#ff6900"/><polygon points="127.9,121.7 130.9,121.7 136,128.4 142.3,133.6 149.2,138.3 156.2,144.1 163.3,150.3 170.4,156.4 177.5,162.5 184.6,168.5 191.7,174.4 198.9,180.1 206,185.7 213.1,191.4 220.3,197.8 223.3,197.8 233.1,113.6 230.1,113.6 223.5,107.7 216.8,102.7 210.2,97.8 203.5,92.8 196.8,87.5 190.2,82.2 183.5,76.9 176.9,71.5 170.2,66.2 163.6,62.2 156.9,59.9 150.3,61.2 143.6,66.4 140.6,66.4" fill="#ff6300"/><polygon points="128.3,120.1 131.3,120.1 136.4,126.7 142.6,132.0 149.5,136.7 156.4,142.5 163.5,148.7 170.6,154.8 177.7,160.9 184.8,166.9 191.9,172.9 199.1,178.6 206.2,184.2 213.3,189.9 220.5,196.2 223.5,196.2 233.1,113.6 230.1,113.6 223.5,107.7 216.8,102.7 210.2,97.8 203.5,92.8 196.8,87.5 190.2,82.2 183.5,76.9 176.9,71.5 170.2,66.2 163.6,62.2 156.9,59.9 150.3,61.2 143.6,66.4 140.6,66.4" fill="#ff5c00"/><polygon points="128.7,118.4 131.7,118.4 136.7,125.1 142.9,130.3 149.8,135.1 156.7,140.9 163.8,147.1 170.9,153.2 178,159.3 185.1,165.4 192.2,171.3 199.3,177.0 206.4,182.6 213.5,188.3 220.6,194.7 223.6,194.7 233.1,113.6 230.1,113.6 223.5,107.7 216.8,102.7 210.2,97.8 203.5,92.8 196.8,87.5 190.2,82.2 183.5,76.9 176.9,71.5 170.2,66.2 163.6,62.2 156.9,59.9 150.3,61.2 143.6,66.4 140.6,66.4" fill="#ff5600"/><polygon points="129,117.0 132,117.0 137.1,123.5 143.2,128.7 150.1,133.5 157,139.3 164.1,145.5 171.1,151.6 178.2,157.7 185.3,163.8 192.4,169.7 199.5,175.4 206.6,181.1 213.7,186.8 220.8,193.2 223.8,193.2 233.1,113.6 230.1,113.6 223.5,107.7 216.8,102.7 210.2,97.8 203.5,92.8 196.8,87.5 190.2,82.2 183.5,76.9 176.9,71.5 170.2,66.2 163.6,62.2 156.9,59.9 150.3,61.2 143.6,66.4 140.6,66.4" fill="#ff5000"/><polygon points="129.4,115.5 132.4,115.5 137.4,121.9 143.6,127.1 150.4,131.9 157.3,137.7 164.4,143.9 171.4,150.0 178.5,156.1 185.5,162.2 192.6,168.2 199.7,173.9 206.8,179.5 213.9,185.2 221,191.6 224,191.6 233.1,113.6 230.1,113.6 223.5,107.7 216.8,102.7 210.2,97.8 203.5,92.8 196.8,87.5 190.2,82.2 183.5,76.9 176.9,71.5 170.2,66.2 163.6,62.2 156.9,59.9 150.3,61.2 143.6,66.4 140.6,66.4" fill="#ff4900"/><polygon points="129.7,114.1 132.7,114.1 137.8,120.3 143.9,125.5 150.7,130.3 157.6,136.1 164.6,142.3 171.7,148.5 178.7,154.6 185.8,160.7 192.8,166.6 199.9,172.3 207,178.0 214.1,183.7 221.2,190.1 224.2,190.1 233.1,113.6 230.1,113.6 223.5,107.7 216.8,102.7 210.2,97.8 203.5,92.8 196.8,87.5 190.2,82.2 183.5,76.9 176.9,71.5 170.2,66.2 163.6,62.2 156.9,59.9 150.3,61.2 143.6,66.4 140.6,66.4" fill="#ff4300"/><polygon points="130,112.6 133,112.6 138.1,118.6 144.2,123.9 151,128.7 157.9,134.5 164.9,140.7 171.9,146.9 179,153.0 186,159.1 193.1,165.0 200.1,170.8 207.2,176.4 214.3,182.1 221.4,188.5 224.4,188.5 233.1,113.6 230.1,113.6 223.5,107.7 216.8,102.7 210.2,97.8 203.5,92.8 196.8,87.5 190.2,82.2 183.5,76.9 176.9,71.5 170.2,66.2 163.6,62.2 156.9,59.9 150.3,61.2 143.6,66.4 140.6,66.4" fill="#ff3d00"/><polygon points="130.4,111.1 133.4,111.1 138.4,117.0 144.5,122.3 151.3,127.0 158.2,132.9 165.2,139.1 172.2,145.3 179.2,151.4 186.2,157.5 193.3,163.5 200.4,169.2 207.4,174.9 214.5,180.6 221.5,187.0 224.5,187.0 233.1,113.6 230.1,113.6 223.5,107.7 216.8,102.7 210.2,97.8 203.5,92.8 196.8,87.5 190.2,82.2 183.5,76.9 176.9,71.5 170.2,66.2 163.6,62.2 156.9,59.9 150.3,61.2 143.6,66.4 140.6,66.4" fill="#ff3600"/><polygon points="130.7,109.7 133.7,109.7 138.8,115.4 144.8,120.6 151.6,125.4 158.5,131.3 165.5,137.5 172.5,143.7 179.5,149.8 186.5,155.9 193.5,161.9 200.6,167.6 207.6,173.3 214.7,179.0 221.7,185.5 224.7,185.5 233.1,113.6 230.1,113.6 223.5,107.7 216.8,102.7 210.2,97.8 203.5,92.8 196.8,87.5 190.2,82.2 183.5,76.9 176.9,71.5 170.2,66.2 163.6,62.2 156.9,59.9 150.3,61.2 143.6,66.4 140.6,66.4" fill="#ff3000"/><polygon points="131,108.2 134,108.2 139.1,114.0 145.2,119.0 152,123.8 158.8,129.6 165.8,135.9 172.7,142.1 179.7,148.2 186.7,154.4 193.8,160.3 200.8,166.1 207.8,171.7 214.9,177.5 221.9,183.9 224.9,183.9 233.1,113.6 230.1,113.6 223.5,107.7 216.8,102.7 210.2,97.8 203.5,92.8 196.8,87.5 190.2,82.2 183.5,76.9 176.9,71.5 170.2,66.2 163.6,62.2 156.9,59.9 150.3,61.2 143.6,66.4 140.6,66.4" fill="#ff2900"/><polygon points="131.4,106.8 134.4,106.8 139.4,112.5 145.5,117.4 152.3,122.1 159.1,128.0 166,134.2 173,140.4 180,146.6 187,152.7 194,158.7 201,164.5 208,170.2 215.1,175.9 222.1,182.4 225.1,182.4 233.1,113.6 230.1,113.6 223.5,107.7 216.8,102.7 210.2,97.8 203.5,92.8 196.8,87.5 190.2,82.2 183.5,76.9 176.9,71.5 170.2,66.2 163.6,62.2 156.9,59.9 150.3,61.2 143.6,66.4 140.6,66.4" fill="#ff2300"/><polygon points="131.7,105.3 134.7,105.3 139.7,111.0 145.8,115.8 152.6,120.4 159.4,126.3 166.3,132.5 173.3,138.7 180.2,144.9 187.2,151.0 194.2,157.0 201.2,162.8 208.2,168.5 215.3,174.2 222.3,180.7 225.3,180.7 233.1,113.6 230.1,113.6 223.5,107.7 216.8,102.7 210.2,97.8 203.5,92.8 196.8,87.5 190.2,82.2 183.5,76.9 176.9,71.5 170.2,66.2 163.6,62.2 156.9,59.9 150.3,61.2 143.6,66.4 140.6,66.4" fill="#ff1d00"/><polygon points="132,103.8 135,103.8 140,109.5 146.1,114.3 152.9,118.8 159.7,124.6 166.6,130.9 173.6,137.1 180.5,143.2 187.5,149.4 194.5,155.3 201.5,161.1 208.5,166.8 215.5,172.5 222.5,179.0 225.5,179.0 233.1,113.6 230.1,113.6 223.5,107.7 216.8,102.7 210.2,97.8 203.5,92.8 196.8,87.5 190.2,82.2 183.5,76.9 176.9,71.5 170.2,66.2 163.6,62.2 156.9,59.9 150.3,61.2 143.6,66.4 140.6,66.4" fill="#ff1600"/><polygon points="132.4,102.4 135.4,102.4 140.3,108.0 146.4,112.8 153.2,117.3 160,123.0 166.9,129.2 173.8,135.4 180.8,141.5 187.7,147.7 194.7,153.6 201.7,159.4 208.7,165.1 215.7,170.8 222.7,177.3 225.7,177.3 233.1,113.6 230.1,113.6 223.5,107.7 216.8,102.7 210.2,97.8 203.5,92.8 196.8,87.5 190.2,82.2 183.5,76.9 176.9,71.5 170.2,66.2 163.6,62.2 156.9,59.9 150.3,61.2 143.6,66.4 140.6,66.4" fill="#ff1000"/><polygon points="132.7,100.9 135.7,100.9 140.7,106.6 146.7,111.3 153.5,115.8 160.2,121.5 167.2,127.7 174.1,133.8 181,139.9 188,146.0 195,152.0 201.9,157.7 208.9,163.4 215.9,169.1 222.9,175.6 225.9,175.6 233.1,113.6 230.1,113.6 223.5,107.7 216.8,102.7 210.2,97.8 203.5,92.8 196.8,87.5 190.2,82.2 183.5,76.9 176.9,71.5 170.2,66.2 163.6,62.2 156.9,59.9 150.3,61.2 143.6,66.4 140.6,66.4" fill="#ff0a00"/><polygon points="133,99.5 136,99.5 141,105.1 147,109.8 153.7,114.3 160.5,120.0 167.4,126.1 174.4,132.2 181.3,138.3 188.2,144.4 195.2,150.3 202.2,156.0 209.1,161.7 216.1,167.4 223.1,173.9 226.1,173.9 233.1,113.6 230.1,113.6 223.5,107.7 216.8,102.7 210.2,97.8 203.5,92.8 196.8,87.5 190.2,82.2 183.5,76.9 176.9,71.5 170.2,66.2 163.6,62.2 156.9,59.9 150.3,61.2 143.6,66.4 140.6,66.4" fill="#ff0300"/><polygon points="133.4,98.0 136.4,98.0 141.3,103.6 147.3,108.3 154,112.7 160.8,118.4 167.7,124.5 174.6,130.7 181.5,136.7 188.5,142.8 195.4,148.7 202.4,154.4 209.4,160.0 216.3,165.7 223.3,172.1 226.3,172.1 233.1,113.6 230.1,113.6 223.5,107.7 216.8,102.7 210.2,97.8 203.5,92.8 196.8,87.5 190.2,82.2 183.5,76.9 176.9,71.5 170.2,66.2 163.6,62.2 156.9,59.9 150.3,61.2 143.6,66.4 140.6,66.4" fill="#fc0000"/><polygon points="133.7,96.5 136.7,96.5 141.6,102.1 147.6,106.8 154.3,111.2 161.1,116.9 168,123.0 174.9,129.1 181.8,135.1 188.7,141.2 195.7,147.1 202.6,152.7 209.6,158.3 216.5,164.0 223.5,170.4 226.5,170.4 233.1,113.6 230.1,113.6 223.5,107.7 216.8,102.7 210.2,97.8 203.5,92.8 196.8,87.5 190.2,82.2 183.5,76.9 176.9,71.5 170.2,66.2 163.6,62.2 156.9,59.9 150.3,61.2 143.6,66.4 140.6,66.4" fill="#f50000"/><polygon points="134,95.1 137,95.1 141.9,100.7 147.9,105.3 154.6,109.7 161.4,115.3 168.3,121.4 175.1,127.5 182,133.5 189,139.6 195.9,145.4 202.8,151.1 209.8,156.6 216.7,162.3 223.7,168.7 226.7,168.7 233.1,113.6 230.1,113.6 223.5,107.7 216.8,102.7 210.2,97.8 203.5,92.8 196.8,87.5 190.2,82.2 183.5,76.9 176.9,71.5 170.2,66.2 163.6,62.2 156.9,59.9 150.3,61.2 143.6,66.4 140.6,66.4" fill="#ef0000"/><polygon points="134.4,93.6 137.4,93.6 142.2,99.2 148.2,103.8 154.9,108.2 161.6,113.8 168.5,119.8 175.4,125.9 182.3,131.9 189.2,137.9 196.1,143.8 203.1,149.4 210,155.0 216.9,160.6 223.9,167.0 226.9,167.0 233.1,113.6 230.1,113.6 223.5,107.7 216.8,102.7 210.2,97.8 203.5,92.8 196.8,87.5 190.2,82.2 183.5,76.9 176.9,71.5 170.2,66.2 163.6,62.2 156.9,59.9 150.3,61.2 143.6,66.4 140.6,66.4" fill="#e90000"/><polygon points="135,91.1 138,91.1 142.5,97.7 148.5,102.3 155.2,106.6 161.9,112.2 168.8,118.3 175.7,124.3 182.6,130.3 189.5,136.3 196.4,142.2 203.3,147.8 210.2,153.3 217.2,158.9 224.1,165.3 227.1,165.3 233.1,113.6 230.1,113.6 223.5,107.7 216.8,102.7 210.2,97.8 203.5,92.8 196.8,87.5 190.2,82.2 183.5,76.9 176.9,71.5 170.2,66.2 163.6,62.2 156.9,59.9 150.3,61.2 143.6,66.4 140.6,66.4" fill="#e20000"/><polygon points="135.6,88.4 138.6,88.4 142.8,96.2 148.8,100.8 155.5,105.1 162.2,110.7 169.1,116.7 175.9,122.8 182.8,128.7 189.7,134.7 196.6,140.5 203.5,146.1 210.4,151.6 217.4,157.2 224.3,163.6 227.3,163.6 233.1,113.6 230.1,113.6 223.5,107.7 216.8,102.7 210.2,97.8 203.5,92.8 196.8,87.5 190.2,82.2 183.5,76.9 176.9,71.5 170.2,66.2 163.6,62.2 156.9,59.9 150.3,61.2 143.6,66.4 140.6,66.4" fill="#dc0000"/><polygon points="136.2,85.8 139.2,85.8 143.2,94.8 149.1,99.3 155.8,103.6 162.5,109.1 169.3,115.2 176.2,121.2 183.1,127.2 189.9,133.1 196.8,138.9 203.8,144.5 210.7,149.9 217.6,155.5 224.5,161.8 227.5,161.8 233.1,113.6 230.1,113.6 223.5,107.7 216.8,102.7 210.2,97.8 203.5,92.8 196.8,87.5 190.2,82.2 183.5,76.9 176.9,71.5 170.2,66.2 163.6,62.2 156.9,59.9 150.3,61.2 143.6,66.4 140.6,66.4" fill="#d60000"/><polygon points="136.4,84.8 139.4,84.8 143.5,93.3 149.4,97.8 156.1,102.0 162.8,107.6 169.6,113.6 176.5,119.6 183.3,125.6 190.2,131.5 197.1,137.3 204,142.8 210.9,148.3 217.8,153.8 224.7,160.1 227.7,160.1 233.1,113.6 230.1,113.6 223.5,107.7 216.8,102.7 210.2,97.8 203.5,92.8 196.8,87.5 190.2,82.2 183.5,76.9 176.9,71.5 170.2,66.2 163.6,62.2 156.9,59.9 150.3,61.2 143.6,66.4 140.6,66.4" fill="#cf0000"/><polygon points="136.4,84.8 139.4,84.8 143.8,91.8 149.7,96.3 156.3,100.5 163,106.0 169.9,112.0 176.7,118.0 183.6,124.0 190.4,129.9 197.3,135.6 204.2,141.1 211.1,146.6 218,152.1 224.9,158.4 227.9,158.4 233.1,113.6 230.1,113.6 223.5,107.7 216.8,102.7 210.2,97.8 203.5,92.8 196.8,87.5 190.2,82.2 183.5,76.9 176.9,71.5 170.2,66.2 163.6,62.2 156.9,59.9 150.3,61.2 143.6,66.4 140.6,66.4" fill="#c90000"/><polygon points="136.4,84.8 139.4,84.8 144.1,90.3 150,94.7 156.6,99.0 163.3,104.5 170.1,110.5 177,116.4 183.8,122.4 190.7,128.3 197.6,134.0 204.4,139.5 211.3,144.9 218.2,150.4 225.1,156.7 228.1,156.7 233.1,113.6 230.1,113.6 223.5,107.7 216.8,102.7 210.2,97.8 203.5,92.8 196.8,87.5 190.2,82.2 183.5,76.9 176.9,71.5 170.2,66.2 163.6,62.2 156.9,59.9 150.3,61.2 143.6,66.4 140.6,66.4" fill="#c20000"/><polygon points="136.4,84.8 139.4,84.8 144.5,88.2 150.3,93.2 156.9,97.4 163.6,102.9 170.4,108.9 177.2,114.9 184.1,120.8 190.9,126.6 197.8,132.4 204.7,137.8 211.5,143.2 218.4,148.7 225.3,155.0 228.3,155.0 233.1,113.6 230.1,113.6 223.5,107.7 216.8,102.7 210.2,97.8 203.5,92.8 196.8,87.5 190.2,82.2 183.5,76.9 176.9,71.5 170.2,66.2 163.6,62.2 156.9,59.9 150.3,61.2 143.6,66.4 140.6,66.4" fill="#bc0000"/><polygon points="136.4,84.8 139.4,84.8 145.1,85.6 150.6,91.7 157.2,95.8 163.9,101.3 170.7,107.3 177.5,113.2 184.3,119.2 191.2,125.0 198,130.7 204.9,136.2 211.8,141.6 218.6,147.0 225.5,153.3 228.5,153.3 233.1,113.6 230.1,113.6 223.5,107.7 216.8,102.7 210.2,97.8 203.5,92.8 196.8,87.5 190.2,82.2 183.5,76.9 176.9,71.5 170.2,66.2 163.6,62.2 156.9,59.9 150.3,61.2 143.6,66.4 140.6,66.4" fill="#b60000"/><polygon points="136.4,84.8 139.4,84.8 145.6,83.1 150.9,90.1 157.5,94.3 164.2,99.7 171,105.6 177.8,111.5 184.6,117.4 191.4,123.3 198.3,128.9 205.1,134.4 212,139.7 218.8,145.2 225.7,151.5 228.7,151.5 233.1,113.6 230.1,113.6 223.5,107.7 216.8,102.7 210.2,97.8 203.5,92.8 196.8,87.5 190.2,82.2 183.5,76.9 176.9,71.5 170.2,66.2 163.6,62.2 156.9,59.9 150.3,61.2 143.6,66.4 140.6,66.4" fill="#af0000"/><polygon points="136.4,84.8 139.4,84.8 146.2,80.5 151.3,88.2 157.8,92.7 164.5,98.1 171.3,103.9 178.1,109.8 184.9,115.6 191.7,121.4 198.6,127.1 205.4,132.4 212.2,137.7 219.1,143.1 225.9,149.3 228.9,149.3 233.1,113.6 230.1,113.6 223.5,107.7 216.8,102.7 210.2,97.8 203.5,92.8 196.8,87.5 190.2,82.2 183.5,76.9 176.9,71.5 170.2,66.2 163.6,62.2 156.9,59.9 150.3,61.2 143.6,66.4 140.6,66.4" fill="#a90000"/><polygon points="136.4,84.8 139.4,84.8 146.2,80.4 151.8,85.7 158.2,90.5 164.8,96.4 171.6,102.3 178.4,108.1 185.2,113.9 192,119.6 198.8,125.2 205.7,130.5 212.5,135.8 219.3,141.1 226.2,147.2 229.2,147.2 233.1,113.6 230.1,113.6 223.5,107.7 216.8,102.7 210.2,97.8 203.5,92.8 196.8,87.5 190.2,82.2 183.5,76.9 176.9,71.5 170.2,66.2 163.6,62.2 156.9,59.9 150.3,61.2 143.6,66.4 140.6,66.4" fill="#a30000"/><polygon points="136.4,84.8 139.4,84.8 146.2,80.4 152.3,83.2 158.7,88.0 165.2,94.1 171.9,100.0 178.7,106.0 185.5,111.9 192.3,117.7 199.1,123.2 205.9,128.5 212.8,133.7 219.6,139.0 226.4,145.1 229.4,145.1 233.1,113.6 230.1,113.6 223.5,107.7 216.8,102.7 210.2,97.8 203.5,92.8 196.8,87.5 190.2,82.2 183.5,76.9 176.9,71.5 170.2,66.2 163.6,62.2 156.9,59.9 150.3,61.2 143.6,66.4 140.6,66.4" fill="#9c0000"/><polygon points="136.4,84.8 139.4,84.8 146.2,80.4 152.8,80.6 159.2,85.5 165.6,91.6 172.4,97.6 179.1,103.6 185.9,109.6 192.6,115.4 199.4,121.0 206.2,126.3 213.1,131.6 219.9,136.9 226.7,143.0 229.7,143.0 233.1,113.6 230.1,113.6 223.5,107.7 216.8,102.7 210.2,97.8 203.5,92.8 196.8,87.5 190.2,82.2 183.5,76.9 176.9,71.5 170.2,66.2 163.6,62.2 156.9,59.9 150.3,61.2 143.6,66.4 140.6,66.4" fill="#960000"/><polygon points="136.4,84.8 139.4,84.8 146.2,80.4 153,79.7 159.6,83.0 166.1,89.2 172.8,95.2 179.5,101.3 186.2,107.2 193,113.1 199.8,118.8 206.5,124.1 213.3,129.4 220.1,134.7 226.9,140.9 229.9,140.9 233.1,113.6 230.1,113.6 223.5,107.7 216.8,102.7 210.2,97.8 203.5,92.8 196.8,87.5 190.2,82.2 183.5,76.9 176.9,71.5 170.2,66.2 163.6,62.2 156.9,59.9 150.3,61.2 143.6,66.4 140.6,66.4" fill="#8f0000"/><polygon points="136.4,84.8 139.4,84.8 146.2,80.4 153,79.7 159.8,82.5 166.5,86.7 173.2,92.8 179.9,98.9 186.6,104.9 193.3,110.9 200.1,116.5 206.8,121.9 213.6,127.2 220.4,132.6 227.2,138.8 230.2,138.8 233.1,113.6 230.1,113.6 223.5,107.7 216.8,102.7 210.2,97.8 203.5,92.8 196.8,87.5 190.2,82.2 183.5,76.9 176.9,71.5 170.2,66.2 163.6,62.2 156.9,59.9 150.3,61.2 143.6,66.4 140.6,66.4" fill="#890000"/><polygon points="136.4,84.8 139.4,84.8 146.2,80.4 153,79.7 159.8,82.5 166.5,86.6 173.3,92.1 180.1,97.6 186.9,103.0 193.7,108.6 200.4,114.3 207.1,119.7 213.9,125.1 220.7,130.5 227.4,136.7 230.4,136.7 233.1,113.6 230.1,113.6 223.5,107.7 216.8,102.7 210.2,97.8 203.5,92.8 196.8,87.5 190.2,82.2 183.5,76.9 176.9,71.5 170.2,66.2 163.6,62.2 156.9,59.9 150.3,61.2 143.6,66.4 140.6,66.4" fill="#830000"/></g><defs><linearGradient id="seamg" gradientUnits="userSpaceOnUse" x1="0" y1="400" x2="0" y2="200"><stop offset="0" stop-color="#fff" stop-opacity="0.25"/><stop offset="1" stop-color="#fff" stop-opacity="0.03"/></linearGradient></defs><g clip-path="url(#big)" stroke="url(#seamg)" stroke-width="0.8" stroke-dasharray="4 2"><line x1="97.7" y1="323.4" x2="115.7" y2="153.4"/><line x1="108.7" y1="332.4" x2="126.7" y2="162.4"/><line x1="119.6" y1="341.5" x2="137.6" y2="171.5"/><line x1="130.5" y1="350.5" x2="148.5" y2="180.5"/><line x1="141.4" y1="359.6" x2="159.5" y2="189.6"/><line x1="152.4" y1="368.7" x2="170.4" y2="198.7"/><line x1="163.3" y1="377.7" x2="181.3" y2="207.7"/><line x1="174.2" y1="386.8" x2="192.3" y2="216.8"/><line x1="185.2" y1="395.8" x2="203.2" y2="225.8"/></g><line x1="86.80" y1="314.30" x2="196.10" y2="404.90" stroke="#262626" stroke-width="1.00" /><g id="text"><text transform="translate(48.54,83.64) scale(1.057,1)" font-size="17.50" font-family="Liberation Sans" fill="#383838">0.2</text><text transform="translate(37.51,256.34) scale(1.057,1)" font-size="17.50" font-family="Liberation Sans" fill="#383838">0.05</text><text transform="translate(63.92,313.04) scale(1.057,1)" font-size="17.50" font-family="Liberation Sans" fill="#383838">0</text><text transform="translate(60.77,336.29) scale(1.057,1)" font-size="17.50" font-family="Liberation Sans" fill="#383838">0</text><text transform="translate(77.75,371.89) scale(1.057,1)" font-size="17.50" font-family="Liberation Sans" fill="#383838">0.02</text><text transform="translate(121.22,408.09) scale(1.057,1)" font-size="17.50" font-family="Liberation Sans" fill="#383838">0.04</text><text transform="translate(269.44,428.34) scale(1.057,1)" font-size="17.50" font-family="Liberation Sans" fill="#383838">0.8</text><text transform="translate(331.39,422.44) scale(1.057,1)" font-size="17.50" font-family="Liberation Sans" fill="#383838">0.6</text><text transform="translate(393.25,415.29) scale(1.057,1)" font-size="17.50" font-family="Liberation Sans" fill="#383838">0.4</text><text transform="translate(455.14,409.39) scale(1.057,1)" font-size="17.50" font-family="Liberation Sans" fill="#383838">0.2</text><text transform="translate(517.47,402.94) scale(1.057,1)" font-size="17.50" font-family="Liberation Sans" fill="#383838">0</text><path d="M213.85,422.0 L213.85,434.9 M214.2,422.5 C212.9,424.0 211.4,424.9 209.6,425.5" fill="none" stroke="#383838" stroke-width="1.55"/><text transform="translate(600.47,78.51) scale(1.010,1)" font-size="16.40" font-family="Liberation Sans" fill="#383838">0.2</text><text transform="translate(600.64,328.16) scale(1.010,1)" font-size="16.40" font-family="Liberation Sans" fill="#383838">0.05</text><text transform="translate(600.55,411.81) scale(1.010,1)" font-size="16.40" font-family="Liberation Sans" fill="#383838">0</text><g transform="translate(37.56,140.45) scale(1.057,1)"><text font-size="17.50" font-family="Liberation Sans" fill="#383838">0.</text><path d="M20.14,-12.53 L20.14,0 M20.46,-12.07 C19.14,-10.50 17.74,-9.71 16.17,-9.10" fill="none" stroke="#383838" stroke-width="1.54"/><text x="24.32" font-size="17.50" font-family="Liberation Sans" fill="#383838">5</text></g><g transform="translate(48.76,198.15) scale(1.057,1)"><text font-size="17.50" font-family="Liberation Sans" fill="#383838">0.</text><path d="M20.14,-12.53 L20.14,0 M20.46,-12.07 C19.14,-10.50 17.74,-9.71 16.17,-9.10" fill="none" stroke="#383838" stroke-width="1.54"/></g><g transform="translate(600.44,160.95) scale(1.010,1)"><text font-size="16.40" font-family="Liberation Sans" fill="#383838">0.</text><path d="M18.88,-11.74 L18.88,0 M19.17,-11.32 C17.94,-9.84 16.63,-9.10 15.15,-8.53" fill="none" stroke="#383838" stroke-width="1.44"/><text x="22.80" font-size="16.40" font-family="Liberation Sans" fill="#383838">5</text></g><g transform="translate(600.54,245.05) scale(1.010,1)"><text font-size="16.40" font-family="Liberation Sans" fill="#383838">0.</text><path d="M18.88,-11.74 L18.88,0 M19.17,-11.32 C17.94,-9.84 16.63,-9.10 15.15,-8.53" fill="none" stroke="#383838" stroke-width="1.44"/></g><text transform="translate(76.63,408.42) scale(0.970,1)" font-size="20.20" font-family="Liberation Sans" fill="#383838">F</text><text transform="translate(89.28,418.34) scale(1.000,1)" font-size="14.50" font-family="Liberation Sans" fill="#383838">o</text><text transform="translate(364.90,436.80) scale(0.970,1)" font-size="20.20" font-family="Liberation Sans" fill="#383838">x</text><text transform="translate(29.4,213.8) rotate(-90)" font-size="19.80" font-family="Liberation Sans" fill="#383838"><tspan x="9.6" letter-spacing="0.28">(x, F</tspan><tspan x="49.6" dy="11" font-size="14.85">o</tspan><tspan x="59.4" dy="-11">)</tspan></text><text transform="translate(29.4,215.2) rotate(-90) skewX(-13)" font-size="19.80" font-family="Liberation Serif" font-style="italic" fill="#383838">&#952;</text><text transform="translate(302.60,524.14) scale(1.020,1)" font-size="31.00" font-family="Liberation Serif" fill="#000000">(a)</text></g><g id="cbar"><rect x="556.30" y="399.29" width="37.50" height="6.71" fill="#000087"/><rect x="556.30" y="393.17" width="37.50" height="6.71" fill="#000097"/><rect x="556.30" y="387.06" width="37.50" height="6.71" fill="#0000a7"/><rect x="556.30" y="380.95" width="37.50" height="6.71" fill="#0000b7"/><rect x="556.30" y="374.84" width="37.50" height="6.71" fill="#0000c7"/><rect x="556.30" y="368.72" width="37.50" height="6.71" fill="#0000d7"/><rect x="556.30" y="362.61" width="37.50" height="6.71" fill="#0000e7"/><rect x="556.30" y="356.50" width="37.50" height="6.71" fill="#0000f7"/><rect x="556.30" y="350.39" width="37.50" height="6.71" fill="#0008ff"/><rect x="556.30" y="344.27" width="37.50" height="6.71" fill="#0018ff"/><rect x="556.30" y="338.16" width="37.50" height="6.71" fill="#0028ff"/><rect x="556.30" y="332.05" width="37.50" height="6.71" fill="#0038ff"/><rect x="556.30" y="325.94" width="37.50" height="6.71" fill="#0048ff"/><rect x="556.30" y="319.82" width="37.50" height="6.71" fill="#0058ff"/><rect x="556.30" y="313.71" width="37.50" height="6.71" fill="#0068ff"/><rect x="556.30" y="307.60" width="37.50" height="6.71" fill="#0078ff"/><rect x="556.30" y="301.49" width="37.50" height="6.71" fill="#0087ff"/><rect x="556.30" y="295.38" width="37.50" height="6.71" fill="#0097ff"/><rect x="556.30" y="289.26" width="37.50" height="6.71" fill="#00a7ff"/><rect x="556.30" y="283.15" width="37.50" height="6.71" fill="#00b7ff"/><rect x="556.30" y="277.04" width="37.50" height="6.71" fill="#00c7ff"/><rect x="556.30" y="270.92" width="37.50" height="6.71" fill="#00d7ff"/><rect x="556.30" y="264.81" width="37.50" height="6.71" fill="#00e7ff"/><rect x="556.30" y="258.70" width="37.50" height="6.71" fill="#00f7ff"/><rect x="556.30" y="252.59" width="37.50" height="6.71" fill="#00ffef"/><rect x="556.30" y="246.47" width="37.50" height="6.71" fill="#00ffcf"/><rect x="556.30" y="240.36" width="37.50" height="6.71" fill="#00ffaf"/><rect x="556.30" y="234.25" width="37.50" height="6.71" fill="#00ff8f"/><rect x="556.30" y="228.14" width="37.50" height="6.71" fill="#00ff70"/><rect x="556.30" y="222.02" width="37.50" height="6.71" fill="#00ff50"/><rect x="556.30" y="215.91" width="37.50" height="6.71" fill="#00ff30"/><rect x="556.30" y="209.80" width="37.50" height="6.71" fill="#00ff10"/><rect x="556.30" y="203.69" width="37.50" height="6.71" fill="#10ff00"/><rect x="556.30" y="197.57" width="37.50" height="6.71" fill="#30ff00"/><rect x="556.30" y="191.46" width="37.50" height="6.71" fill="#50ff00"/><rect x="556.30" y="185.35" width="37.50" height="6.71" fill="#70ff00"/><rect x="556.30" y="179.24" width="37.50" height="6.71" fill="#8fff00"/><rect x="556.30" y="173.12" width="37.50" height="6.71" fill="#afff00"/><rect x="556.30" y="167.01" width="37.50" height="6.71" fill="#cfff00"/><rect x="556.30" y="160.90" width="37.50" height="6.71" fill="#efff00"/><rect x="556.30" y="154.79" width="37.50" height="6.71" fill="#fff700"/><rect x="556.30" y="148.67" width="37.50" height="6.71" fill="#ffe700"/><rect x="556.30" y="142.56" width="37.50" height="6.71" fill="#ffd700"/><rect x="556.30" y="136.45" width="37.50" height="6.71" fill="#ffc700"/><rect x="556.30" y="130.34" width="37.50" height="6.71" fill="#ffb700"/><rect x="556.30" y="124.22" width="37.50" height="6.71" fill="#ffa700"/><rect x="556.30" y="118.11" width="37.50" height="6.71" fill="#ff9700"/><rect x="556.30" y="112.00" width="37.50" height="6.71" fill="#ff8700"/><rect x="556.30" y="105.89" width="37.50" height="6.71" fill="#ff7800"/><rect x="556.30" y="99.78" width="37.50" height="6.71" fill="#ff6800"/><rect x="556.30" y="93.66" width="37.50" height="6.71" fill="#ff5800"/><rect x="556.30" y="87.55" width="37.50" height="6.71" fill="#ff4800"/><rect x="556.30" y="81.44" width="37.50" height="6.71" fill="#ff3800"/><rect x="556.30" y="75.33" width="37.50" height="6.71" fill="#ff2800"/><rect x="556.30" y="69.21" width="37.50" height="6.71" fill="#ff1800"/><rect x="556.30" y="63.10" width="37.50" height="6.71" fill="#ff0800"/><rect x="556.30" y="56.99" width="37.50" height="6.71" fill="#f70000"/><rect x="556.30" y="50.88" width="37.50" height="6.71" fill="#e70000"/><rect x="556.30" y="44.76" width="37.50" height="6.71" fill="#d70000"/><rect x="556.30" y="38.65" width="37.50" height="6.71" fill="#c70000"/><rect x="556.30" y="32.54" width="37.50" height="6.71" fill="#b70000"/><rect x="556.30" y="26.42" width="37.50" height="6.71" fill="#a70000"/><rect x="556.30" y="20.31" width="37.50" height="6.71" fill="#970000"/><rect x="556.30" y="14.20" width="37.50" height="6.71" fill="#870000"/><line x1="592.30" y1="16.50" x2="557.80" y2="403.70" stroke="#ffffff" stroke-width="0.80" opacity="0.12"/><rect x="556.30" y="14.50" width="37.50" height="391.20" fill="none" stroke="#262626" stroke-width="1.2"/><line x1="593.80" y1="405.70" x2="589.30" y2="405.70" stroke="#262626" stroke-width="1.20" /><line x1="593.80" y1="322.07" x2="589.30" y2="322.07" stroke="#262626" stroke-width="1.20" /><line x1="593.80" y1="238.45" x2="589.30" y2="238.45" stroke="#262626" stroke-width="1.20" /><line x1="593.80" y1="154.82" x2="589.30" y2="154.82" stroke="#262626" stroke-width="1.20" /><line x1="593.80" y1="71.20" x2="589.30" y2="71.20" stroke="#262626" stroke-width="1.20" /></g></svg></body></html>
